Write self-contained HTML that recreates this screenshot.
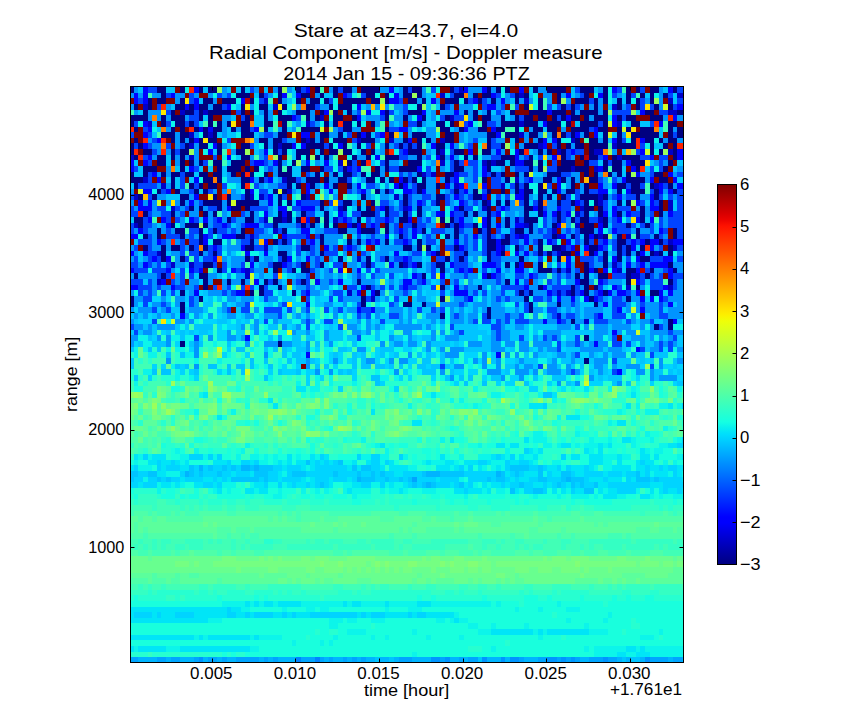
<!DOCTYPE html>
<html><head><meta charset="utf-8"><title>Stare</title>
<style>
html,body{margin:0;padding:0;background:#fff;}
body{width:864px;height:720px;overflow:hidden;}
svg{display:block;}
text{font-family:"Liberation Sans",sans-serif;fill:#000;}
</style></head><body>
<svg width="864" height="720" viewBox="0 0 864 720">
<defs>
<clipPath id="ax"><rect x="130" y="86" width="554" height="577"/></clipPath>
<linearGradient id="jet" x1="0" y1="0" x2="0" y2="1"><stop offset="0.0000" stop-color="#800000"/><stop offset="0.0156" stop-color="#920000"/><stop offset="0.0312" stop-color="#a40000"/><stop offset="0.0469" stop-color="#b60000"/><stop offset="0.0625" stop-color="#c80000"/><stop offset="0.0781" stop-color="#da0000"/><stop offset="0.0938" stop-color="#ec0400"/><stop offset="0.1094" stop-color="#fe1200"/><stop offset="0.1250" stop-color="#ff2100"/><stop offset="0.1406" stop-color="#ff3000"/><stop offset="0.1562" stop-color="#ff3f00"/><stop offset="0.1719" stop-color="#ff4d00"/><stop offset="0.1875" stop-color="#ff5c00"/><stop offset="0.2031" stop-color="#ff6b00"/><stop offset="0.2188" stop-color="#ff7a00"/><stop offset="0.2344" stop-color="#ff8800"/><stop offset="0.2500" stop-color="#ff9700"/><stop offset="0.2656" stop-color="#ffa600"/><stop offset="0.2812" stop-color="#ffb500"/><stop offset="0.2969" stop-color="#ffc300"/><stop offset="0.3125" stop-color="#ffd200"/><stop offset="0.3281" stop-color="#ffe100"/><stop offset="0.3438" stop-color="#fcf000"/><stop offset="0.3594" stop-color="#effe08"/><stop offset="0.3750" stop-color="#e2ff15"/><stop offset="0.3906" stop-color="#d5ff21"/><stop offset="0.4062" stop-color="#c9ff2e"/><stop offset="0.4219" stop-color="#bcff3b"/><stop offset="0.4375" stop-color="#afff48"/><stop offset="0.4531" stop-color="#a2ff55"/><stop offset="0.4688" stop-color="#95ff62"/><stop offset="0.4844" stop-color="#88ff6f"/><stop offset="0.5000" stop-color="#7bff7b"/><stop offset="0.5156" stop-color="#6fff88"/><stop offset="0.5312" stop-color="#62ff95"/><stop offset="0.5469" stop-color="#55ffa2"/><stop offset="0.5625" stop-color="#48ffaf"/><stop offset="0.5781" stop-color="#3bffbc"/><stop offset="0.5938" stop-color="#2effc9"/><stop offset="0.6094" stop-color="#21ffd5"/><stop offset="0.6250" stop-color="#15ffe2"/><stop offset="0.6406" stop-color="#08efef"/><stop offset="0.6562" stop-color="#00dffc"/><stop offset="0.6719" stop-color="#00cfff"/><stop offset="0.6875" stop-color="#00bfff"/><stop offset="0.7031" stop-color="#00afff"/><stop offset="0.7188" stop-color="#009fff"/><stop offset="0.7344" stop-color="#008fff"/><stop offset="0.7500" stop-color="#0080ff"/><stop offset="0.7656" stop-color="#0070ff"/><stop offset="0.7812" stop-color="#0060ff"/><stop offset="0.7969" stop-color="#0050ff"/><stop offset="0.8125" stop-color="#0040ff"/><stop offset="0.8281" stop-color="#0030ff"/><stop offset="0.8438" stop-color="#0020ff"/><stop offset="0.8594" stop-color="#0010ff"/><stop offset="0.8750" stop-color="#0000ff"/><stop offset="0.8906" stop-color="#0000fe"/><stop offset="0.9062" stop-color="#0000ec"/><stop offset="0.9219" stop-color="#0000da"/><stop offset="0.9375" stop-color="#0000c8"/><stop offset="0.9531" stop-color="#0000b6"/><stop offset="0.9688" stop-color="#0000a4"/><stop offset="0.9844" stop-color="#000092"/><stop offset="1.0000" stop-color="#000080"/></linearGradient>
</defs>
<rect width="864" height="720" fill="#fff"/>
<g clip-path="url(#ax)">
<g transform="translate(128.952 87.006) scale(4.6480 5.6470) translate(0 0.5)" stroke-width="1" fill="none" shape-rendering="crispEdges">
<path stroke="#000080" d="M98 48h1M11 45h1M32 45h1M98 44h1M113 42h1M116 42h1M95 41h1M116 41h1M67 40h1M77 40h1M11 39h1M77 39h1M86 39h1M0 38h1M11 38h1M50 38h1M59 38h2M63 38h1M86 38h1M92 38h1M100 38h1M0 37h1M15 37h1M50 37h1M67 37h1M85 37h1M99 37h1M107 37h1M11 36h1M26 36h1M28 36h1M35 36h1M53 36h1M84 36h1M86 36h1M95 36h1M98 36h1M102 36h1M112 36h2M16 35h1M28 35h1M32 35h1M51 35h1M67 35h1M75 35h1M88 35h1M95 35h1M98 35h1M100 35h1M109 35h1M16 34h1M21 34h1M24 34h1M29 34h1M31 34h1M37 34h1M49 34h1M81 34h1M97 34h2M107 34h1M116 34h1M1 33h1M7 33h1M15 33h2M63 33h1M77 33h1M96 33h1M98 33h1M101 33h2M107 33h1M111 33h1M19 32h1M31 32h1M35 32h1M37 32h2M67 32h1M88 32h3M92 32h1M98 32h1M100 32h1M107 32h2M112 32h1M117 32h1M16 31h2M31 31h2M37 31h1M41 31h1M51 31h1M58 31h1M62 31h1M66 31h2M81 31h1M83 31h1M88 31h1M98 31h1M102 31h1M116 31h1M7 30h1M11 30h1M25 30h1M27 30h1M33 30h1M45 30h1M51 30h1M55 30h1M68 30h1M71 30h1M77 30h1M84 30h1M92 30h1M102 30h1M105 30h1M110 30h2M7 29h1M15 29h1M18 29h1M32 29h2M41 29h1M66 29h1M72 29h1M77 29h1M80 29h1M88 29h1M90 29h1M93 29h2M99 29h1M102 29h1M105 29h1M107 29h1M109 29h1M112 29h1M114 29h1M116 29h1M3 28h1M7 28h1M9 28h2M13 28h1M16 28h1M25 28h2M37 28h2M59 28h2M62 28h1M64 28h1M70 28h1M77 28h2M83 28h1M88 28h1M91 28h2M99 28h2M105 28h1M107 28h1M110 28h1M116 28h1M15 27h1M18 27h2M26 27h1M31 27h1M33 27h1M41 27h1M47 27h1M49 27h1M55 27h1M62 27h1M77 27h2M80 27h2M88 27h1M98 27h1M105 27h2M111 27h1M114 27h1M3 26h1M6 26h1M11 26h1M15 26h1M23 26h2M41 26h1M58 26h1M68 26h1M70 26h1M77 26h1M81 26h1M91 26h1M95 26h1M98 26h1M100 26h1M102 26h1M105 26h1M109 26h1M113 26h1M117 26h1M6 25h1M10 25h2M15 25h1M18 25h1M24 25h1M33 25h1M45 25h2M50 25h3M55 25h1M63 25h1M70 25h1M75 25h1M77 25h1M83 25h2M86 25h1M97 25h3M109 25h1M117 25h1M2 24h1M9 24h1M12 24h3M16 24h1M31 24h1M37 24h1M39 24h1M42 24h1M44 24h1M48 24h1M55 24h1M61 24h1M68 24h1M70 24h1M74 24h1M77 24h1M81 24h1M86 24h1M91 24h1M98 24h2M102 24h1M107 24h1M111 24h1M1 23h2M21 23h1M25 23h2M31 23h2M34 23h1M36 23h1M40 23h1M42 23h1M49 23h1M58 23h2M67 23h1M69 23h1M77 23h1M81 23h1M85 23h3M92 23h1M95 23h1M97 23h2M102 23h1M110 23h1M3 22h1M9 22h1M16 22h1M18 22h1M26 22h1M32 22h1M34 22h1M37 22h1M42 22h1M50 22h3M55 22h1M59 22h1M62 22h1M72 22h1M74 22h1M77 22h1M85 22h1M88 22h1M92 22h1M98 22h1M101 22h1M105 22h1M110 22h1M114 22h1M13 21h1M15 21h1M19 21h1M22 21h2M25 21h1M41 21h1M46 21h1M49 21h1M51 21h1M55 21h1M62 21h1M71 21h1M77 21h1M85 21h2M88 21h1M98 21h2M101 21h1M110 21h1M114 21h1M11 20h1M16 20h4M21 20h1M23 20h5M32 20h1M34 20h1M41 20h1M46 20h2M52 20h1M59 20h1M66 20h1M76 20h1M79 20h1M81 20h1M85 20h1M88 20h1M92 20h1M95 20h1M98 20h1M100 20h1M105 20h1M107 20h1M114 20h1M2 19h1M5 19h1M11 19h2M18 19h1M21 19h1M25 19h1M32 19h1M37 19h1M50 19h1M59 19h1M66 19h2M74 19h2M85 19h1M88 19h1M90 19h1M93 19h1M97 19h4M102 19h1M109 19h1M113 19h1M6 18h1M10 18h1M14 18h1M16 18h1M25 18h1M31 18h1M33 18h1M53 18h1M55 18h1M62 18h1M70 18h1M74 18h1M77 18h1M80 18h1M83 18h1M85 18h2M88 18h2M91 18h1M94 18h2M98 18h1M105 18h1M108 18h3M113 18h1M117 18h1M1 17h1M9 17h1M13 17h1M15 17h1M17 17h2M24 17h1M34 17h1M36 17h1M39 17h1M44 17h1M47 17h1M58 17h1M62 17h2M66 17h1M83 17h1M85 17h1M88 17h1M95 17h1M98 17h1M105 17h2M108 17h2M112 17h1M116 17h1M0 16h3M9 16h1M16 16h2M19 16h1M24 16h2M28 16h1M34 16h2M38 16h3M42 16h1M45 16h2M51 16h2M54 16h1M56 16h1M59 16h1M61 16h1M63 16h1M68 16h1M76 16h1M81 16h1M89 16h2M93 16h1M95 16h1M99 16h2M107 16h4M114 16h2M0 15h1M3 15h1M7 15h1M9 15h2M12 15h2M15 15h2M18 15h2M22 15h1M24 15h1M26 15h1M29 15h1M32 15h3M40 15h1M44 15h1M46 15h2M50 15h1M52 15h2M62 15h1M68 15h2M78 15h1M80 15h1M83 15h1M85 15h1M90 15h3M98 15h1M100 15h1M103 15h1M105 15h1M107 15h1M113 15h2M3 14h3M11 14h1M19 14h1M21 14h3M25 14h1M27 14h1M32 14h1M34 14h1M37 14h2M41 14h1M46 14h1M53 14h1M55 14h1M58 14h4M70 14h2M77 14h1M86 14h1M88 14h1M92 14h3M96 14h3M102 14h1M104 14h2M109 14h1M115 14h1M6 13h2M11 13h1M13 13h1M15 13h1M18 13h2M22 13h3M32 13h1M35 13h1M47 13h1M50 13h1M55 13h1M60 13h3M70 13h1M77 13h1M79 13h2M82 13h1M85 13h2M88 13h1M93 13h3M98 13h1M102 13h1M104 13h2M108 13h3M116 13h1M1 12h1M6 12h2M9 12h1M11 12h1M24 12h2M32 12h1M36 12h1M38 12h1M40 12h1M42 12h1M48 12h1M51 12h1M55 12h3M62 12h1M67 12h1M72 12h1M74 12h1M80 12h3M86 12h1M93 12h1M97 12h1M99 12h2M104 12h1M106 12h4M117 12h1M0 11h1M3 11h2M9 11h1M11 11h2M19 11h1M23 11h2M31 11h1M33 11h1M36 11h3M41 11h1M43 11h2M46 11h2M50 11h1M52 11h1M60 11h3M66 11h1M70 11h2M76 11h2M84 11h1M88 11h1M90 11h1M93 11h1M99 11h1M112 11h1M114 11h1M117 11h1M0 10h1M2 10h1M12 10h1M15 10h2M19 10h1M24 10h2M29 10h1M31 10h1M33 10h2M38 10h4M43 10h1M46 10h1M49 10h1M55 10h1M58 10h1M60 10h1M62 10h1M66 10h2M77 10h1M80 10h1M85 10h3M92 10h1M94 10h1M96 10h2M99 10h4M105 10h4M112 10h1M115 10h1M117 10h1M1 9h1M9 9h1M11 9h1M13 9h1M15 9h1M17 9h2M28 9h2M31 9h2M37 9h1M39 9h1M41 9h1M44 9h3M50 9h3M59 9h1M62 9h1M64 9h1M68 9h2M77 9h1M83 9h1M88 9h1M92 9h1M96 9h1M99 9h2M102 9h1M105 9h1M108 9h1M111 9h2M114 9h1M116 9h2M7 8h3M11 8h2M16 8h1M18 8h1M24 8h3M32 8h2M41 8h2M45 8h1M49 8h1M51 8h1M56 8h1M61 8h3M68 8h2M77 8h2M81 8h3M86 8h2M91 8h1M93 8h1M95 8h1M98 8h1M102 8h1M105 8h1M108 8h6M116 8h1M118 8h2M1 7h1M9 7h1M11 7h1M14 7h1M16 7h1M18 7h2M22 7h1M24 7h2M29 7h1M33 7h1M37 7h4M46 7h2M55 7h1M67 7h2M71 7h1M75 7h2M79 7h2M83 7h1M87 7h2M90 7h2M95 7h4M101 7h2M105 7h1M107 7h1M110 7h3M116 7h1M118 7h2M0 6h1M7 6h1M10 6h2M13 6h1M17 6h1M19 6h1M21 6h1M24 6h2M29 6h2M33 6h1M42 6h1M44 6h1M46 6h2M49 6h1M52 6h1M62 6h1M66 6h2M69 6h1M76 6h1M80 6h4M85 6h3M90 6h3M94 6h1M97 6h4M102 6h1M108 6h2M116 6h2M0 5h4M7 5h1M9 5h3M15 5h1M17 5h1M25 5h1M29 5h1M32 5h3M38 5h1M40 5h1M44 5h2M48 5h1M55 5h1M59 5h1M63 5h1M68 5h1M74 5h1M76 5h2M80 5h1M83 5h1M85 5h2M88 5h2M91 5h1M93 5h1M95 5h2M98 5h1M100 5h3M105 5h1M107 5h2M112 5h3M3 4h1M9 4h1M12 4h2M15 4h1M17 4h5M24 4h1M26 4h1M29 4h1M32 4h1M36 4h3M41 4h1M44 4h1M47 4h1M55 4h1M60 4h3M72 4h1M74 4h1M77 4h1M82 4h1M86 4h4M91 4h3M95 4h1M97 4h4M102 4h1M111 4h2M118 4h2M1 3h1M4 3h1M10 3h2M13 3h1M15 3h2M18 3h2M24 3h1M28 3h2M33 3h1M38 3h2M43 3h1M45 3h3M62 3h1M67 3h1M85 3h1M88 3h1M93 3h1M95 3h1M100 3h1M105 3h1M109 3h1M113 3h1M116 3h1M4 2h1M6 2h2M11 2h1M16 2h2M20 2h3M26 2h1M32 2h1M36 2h1M39 2h2M42 2h1M46 2h5M52 2h2M55 2h1M60 2h2M63 2h1M68 2h3M72 2h1M75 2h1M78 2h1M83 2h1M88 2h1M92 2h1M96 2h3M100 2h1M102 2h1M105 2h1M107 2h1M109 2h1M112 2h1M7 1h1M23 1h3M28 1h1M32 1h1M37 1h2M41 1h1M44 1h1M51 1h2M55 1h1M59 1h2M62 1h1M70 1h2M74 1h1M76 1h2M83 1h1M85 1h1M92 1h1M98 1h1M102 1h1M107 1h1M110 1h1M112 1h1M115 1h1M0 0h1M6 0h2M11 0h1M15 0h1M17 0h2M24 0h1M32 0h1M36 0h1M40 0h1M44 0h1M46 0h2M50 0h4M59 0h1M61 0h2M69 0h1M77 0h1M79 0h1M81 0h1M87 0h1M90 0h4M97 0h3M102 0h1M107 0h1M109 0h1M112 0h2M117 0h1"/>
<path stroke="#0000c9" d="M98 41h1M92 40h1M52 37h1M47 36h1M92 36h1M94 36h1M107 35h1M116 35h1M6 34h1M25 33h1M108 33h2M25 32h1M94 32h1M105 32h1M9 31h1M13 31h1M59 31h1M104 31h1M49 30h1M6 29h1M92 29h1M96 29h1M113 29h1M29 28h1M80 28h1M93 28h1M117 28h1M116 27h1M26 26h1M84 26h1M92 26h1M101 26h1M107 26h1M31 25h1M91 25h1M1 24h1M85 24h1M96 24h1M29 23h1M33 23h1M44 23h1M83 23h1M101 23h1M67 22h1M96 22h1M9 21h1M45 21h1M59 21h1M76 21h1M97 21h1M116 21h1M77 20h1M101 20h1M116 20h1M1 19h1M26 19h1M28 19h1M38 19h1M57 19h1M101 19h1M34 18h1M7 17h1M70 17h1M80 17h1M113 17h1M3 16h1M33 16h1M83 16h1M63 15h1M65 15h1M95 14h1M100 14h1M45 13h1M67 13h1M76 13h1M78 13h1M0 12h1M13 12h1M105 12h1M67 11h1M92 11h1M100 11h2M116 11h1M13 10h1M32 10h1M88 10h1M104 10h1M38 9h1M49 9h1M56 9h1M67 9h1M95 9h1M13 8h1M17 8h1M84 8h1M4 6h1M38 6h1M84 6h1M105 6h1M41 5h1M69 5h1M11 4h1M16 4h1M116 4h2M3 3h1M31 3h1M104 3h1M29 2h1M85 2h1M116 2h1M67 1h1M84 1h1M118 1h2M71 0h1"/>
<path stroke="#0002ff" d="M105 50h1M38 47h1M79 47h1M109 46h1M100 45h1M25 44h1M104 43h1M89 41h1M92 41h1M117 41h1M11 40h1M101 40h1M49 39h1M52 39h1M105 39h1M110 39h1M38 38h1M102 38h1M116 38h1M73 37h1M92 37h1M95 37h1M98 37h1M100 37h1M110 37h1M112 37h1M114 37h1M14 36h1M23 36h2M38 36h1M49 36h1M52 36h1M70 36h3M90 36h1M97 36h1M101 36h1M103 36h1M105 36h2M109 36h1M114 36h1M116 36h1M0 35h2M9 35h1M50 35h1M59 35h1M70 35h1M85 35h1M89 35h1M104 35h1M115 35h1M7 34h1M27 34h1M40 34h1M45 34h1M59 34h2M63 34h1M83 34h1M96 34h1M101 34h1M109 34h1M61 33h1M67 33h1M76 33h1M78 33h1M86 33h1M116 33h1M0 32h1M8 32h1M13 32h1M15 32h1M22 32h1M24 32h1M45 32h1M49 32h1M71 32h1M73 32h1M79 32h1M83 32h2M99 32h1M102 32h1M104 32h1M109 32h1M116 32h1M3 31h1M26 31h1M33 31h1M56 31h1M61 31h1M69 31h1M76 31h3M84 31h1M94 31h1M107 31h1M110 31h1M112 31h4M5 30h1M8 30h1M18 30h1M34 30h1M38 30h1M59 30h1M94 30h1M104 30h1M109 30h1M115 30h2M0 29h1M3 29h1M25 29h1M29 29h1M57 29h1M65 29h1M79 29h1M83 29h1M85 29h1M100 29h1M110 29h1M18 28h1M24 28h1M42 28h1M47 28h1M71 28h1M79 28h1M95 28h1M98 28h1M101 28h1M108 28h1M112 28h1M6 27h1M16 27h1M29 27h1M39 27h1M51 27h1M53 27h1M59 27h1M70 27h1M79 27h1M85 27h1M90 27h1M94 27h1M102 27h1M108 27h1M110 27h1M112 27h2M117 27h3M0 26h2M16 26h1M20 26h3M33 26h1M38 26h1M55 26h1M61 26h1M74 26h1M83 26h1M85 26h1M93 26h1M99 26h1M2 25h1M37 25h2M49 25h1M58 25h1M61 25h1M101 25h1M104 25h1M114 25h1M8 24h1M20 24h1M25 24h3M47 24h1M49 24h1M52 24h1M71 24h1M76 24h1M79 24h1M83 24h2M92 24h1M101 24h1M4 23h1M7 23h1M13 23h1M16 23h1M19 23h1M38 23h1M46 23h1M55 23h1M60 23h1M71 23h1M76 23h1M105 23h1M109 23h1M112 23h1M29 22h1M33 22h1M45 22h1M66 22h1M69 22h1M79 22h1M89 22h1M91 22h1M94 22h1M102 22h1M104 22h1M107 22h1M116 22h1M2 21h3M21 21h1M32 21h2M37 21h3M54 21h1M60 21h1M70 21h1M80 21h1M87 21h1M92 21h1M104 21h1M112 21h2M2 20h1M4 20h1M13 20h1M30 20h1M36 20h1M62 20h1M71 20h1M96 20h1M109 20h1M112 20h1M14 19h1M30 19h1M70 19h1M76 19h1M83 19h2M105 19h1M112 19h1M3 18h2M8 18h1M26 18h1M38 18h1M43 18h1M50 18h1M59 18h2M63 18h1M72 18h1M84 18h1M92 18h1M101 18h2M107 18h1M114 18h1M116 18h1M38 17h1M42 17h1M49 17h1M57 17h1M59 17h1M68 17h1M71 17h1M76 17h1M92 17h1M101 17h1M104 17h1M114 17h1M118 17h2M6 16h1M14 16h1M26 16h1M30 16h1M58 16h1M70 16h1M86 16h1M92 16h1M106 16h1M112 16h1M117 16h1M5 15h1M70 15h1M76 15h1M109 15h1M116 15h1M0 14h1M13 14h1M47 14h1M49 14h1M62 14h1M76 14h1M101 14h1M108 14h1M0 13h1M3 13h1M27 13h2M31 13h1M38 13h1M42 13h1M83 13h2M107 13h1M4 12h1M21 12h1M53 12h1M66 12h1M69 12h1M83 12h1M91 12h1M102 12h1M112 12h1M118 12h2M17 11h1M29 11h1M59 11h1M73 11h1M79 11h1M83 11h1M95 11h1M110 11h1M118 11h2M3 10h1M18 10h1M35 10h1M37 10h1M45 10h1M65 10h1M69 10h1M89 10h1M6 9h1M14 9h1M60 9h1M89 9h1M91 9h1M104 9h1M110 9h1M3 8h1M37 8h2M50 8h1M54 8h1M79 8h1M96 8h1M100 8h1M4 7h1M15 7h1M17 7h1M27 7h1M58 7h2M72 7h1M78 7h1M100 7h1M3 6h1M73 6h1M89 6h1M104 6h1M114 6h1M35 5h1M49 5h1M62 5h1M94 5h1M104 5h1M117 5h1M42 4h1M51 4h1M54 4h1M63 4h1M70 4h1M90 4h1M110 4h1M12 3h1M14 3h1M21 3h1M49 3h1M77 3h2M118 3h2M1 2h1M3 2h1M14 2h1M24 2h1M56 2h2M65 2h1M74 2h1M80 2h1M1 1h1M3 1h1M9 1h1M33 1h1M36 1h1M46 1h1M57 1h1M78 1h1M94 1h1M101 1h1M3 0h1M14 0h1M38 0h1M56 0h1M72 0h1M76 0h1M84 0h1M104 0h1M116 0h1"/>
<path stroke="#0043ff" d="M95 50h1M104 50h1M67 49h1M88 49h1M112 49h1M104 48h1M96 47h1M112 47h1M92 46h1M110 46h1M114 46h1M116 46h1M92 45h1M96 45h1M104 45h2M107 45h1M114 45h1M116 45h1M14 44h1M49 44h1M79 44h1M84 44h1M89 44h1M91 44h1M96 44h1M104 44h1M117 44h1M1 43h1M71 43h1M79 43h1M116 43h1M0 42h1M38 42h1M45 42h1M69 42h1M78 42h2M96 42h1M114 42h1M5 41h1M29 41h1M38 41h1M42 41h2M54 41h1M74 41h1M76 41h2M79 41h1M81 41h1M83 41h3M93 41h1M100 41h3M107 41h1M112 41h1M32 40h1M49 40h1M51 40h1M56 40h2M70 40h1M76 40h1M81 40h1M84 40h1M91 40h1M94 40h2M100 40h1M104 40h3M114 40h2M5 39h1M8 39h1M21 39h1M24 39h2M29 39h4M34 39h1M38 39h1M42 39h1M45 39h1M50 39h2M62 39h1M65 39h1M67 39h1M85 39h1M90 39h2M104 39h1M114 39h1M3 38h1M7 38h1M13 38h1M25 38h1M33 38h1M49 38h1M56 38h1M71 38h1M83 38h1M85 38h1M95 38h1M104 38h3M110 38h1M114 38h1M3 37h2M13 37h1M29 37h1M38 37h1M43 37h1M45 37h1M51 37h1M57 37h1M72 37h1M79 37h1M81 37h1M87 37h2M90 37h1M101 37h1M104 37h2M115 37h1M2 36h1M4 36h1M7 36h1M9 36h1M20 36h1M22 36h1M29 36h2M37 36h1M44 36h2M59 36h1M67 36h1M74 36h1M76 36h1M80 36h1M83 36h1M85 36h1M91 36h1M93 36h1M96 36h1M100 36h1M107 36h1M2 35h3M6 35h1M10 35h2M14 35h1M18 35h1M21 35h1M24 35h1M26 35h1M29 35h1M38 35h1M47 35h2M52 35h1M54 35h1M56 35h1M58 35h1M60 35h2M65 35h1M72 35h1M80 35h5M91 35h4M96 35h1M101 35h1M105 35h1M112 35h3M117 35h1M0 34h3M4 34h1M9 34h1M11 34h1M30 34h1M36 34h1M38 34h1M43 34h1M62 34h1M67 34h1M70 34h1M79 34h1M85 34h1M90 34h1M92 34h1M102 34h1M110 34h1M112 34h3M117 34h1M6 33h1M8 33h1M11 33h1M13 33h1M31 33h1M38 33h1M49 33h1M52 33h1M56 33h1M62 33h1M65 33h1M72 33h1M79 33h1M83 33h2M87 33h1M92 33h1M94 33h1M104 33h3M110 33h1M112 33h1M114 33h1M117 33h3M1 32h3M5 32h3M11 32h1M14 32h1M20 32h1M23 32h1M26 32h1M34 32h1M39 32h1M43 32h1M51 32h1M53 32h1M65 32h1M70 32h1M72 32h1M76 32h1M91 32h1M93 32h1M96 32h1M111 32h1M115 32h1M0 31h2M4 31h1M6 31h1M8 31h1M14 31h2M18 31h1M20 31h1M24 31h1M30 31h1M34 31h1M36 31h1M40 31h1M44 31h2M50 31h1M52 31h1M60 31h1M65 31h1M70 31h3M79 31h1M92 31h1M99 31h1M105 31h1M109 31h1M1 30h1M4 30h1M6 30h1M12 30h1M14 30h1M16 30h2M26 30h1M32 30h1M40 30h1M54 30h1M57 30h2M60 30h1M66 30h2M70 30h1M72 30h1M78 30h2M88 30h1M97 30h3M101 30h1M107 30h1M112 30h3M118 30h2M4 29h2M11 29h1M13 29h2M17 29h1M19 29h1M36 29h1M39 29h1M42 29h3M50 29h1M61 29h2M64 29h1M70 29h2M76 29h1M78 29h1M87 29h1M89 29h1M91 29h1M106 29h1M1 28h1M4 28h1M11 28h1M14 28h1M17 28h1M19 28h1M27 28h2M36 28h1M39 28h1M44 28h1M46 28h1M48 28h1M68 28h2M72 28h1M74 28h1M76 28h1M84 28h1M94 28h1M102 28h1M104 28h1M106 28h1M114 28h1M118 28h2M2 27h3M7 27h1M11 27h1M13 27h2M24 27h2M32 27h1M34 27h1M38 27h1M52 27h1M57 27h2M60 27h1M64 27h2M72 27h1M74 27h1M76 27h1M82 27h2M87 27h1M91 27h1M96 27h1M99 27h1M101 27h1M104 27h1M107 27h1M109 27h1M115 27h1M4 26h1M8 26h3M13 26h1M17 26h1M25 26h1M27 26h1M34 26h4M40 26h1M49 26h1M52 26h1M59 26h1M64 26h1M72 26h1M76 26h1M78 26h1M80 26h1M82 26h1M89 26h2M96 26h1M110 26h2M114 26h1M118 26h2M0 25h1M3 25h1M8 25h1M13 25h2M17 25h1M19 25h2M22 25h1M27 25h2M32 25h1M42 25h3M53 25h1M57 25h1M59 25h1M62 25h1M65 25h3M71 25h1M76 25h1M79 25h1M82 25h1M88 25h1M90 25h1M94 25h1M96 25h1M105 25h3M112 25h1M115 25h1M118 25h2M0 24h1M3 24h2M18 24h2M21 24h1M24 24h1M29 24h2M36 24h1M38 24h1M51 24h1M53 24h1M57 24h1M59 24h2M62 24h2M69 24h1M72 24h2M89 24h1M104 24h3M108 24h1M110 24h1M112 24h1M114 24h1M116 24h4M3 23h1M8 23h1M10 23h1M14 23h1M18 23h1M22 23h1M28 23h1M45 23h1M47 23h1M51 23h1M53 23h2M56 23h1M62 23h1M64 23h1M70 23h1M84 23h1M89 23h1M91 23h1M93 23h1M96 23h1M99 23h2M104 23h1M114 23h1M116 23h4M0 22h2M4 22h1M7 22h2M11 22h1M24 22h1M38 22h2M46 22h1M48 22h2M53 22h1M56 22h2M60 22h1M70 22h2M78 22h1M93 22h1M97 22h1M108 22h2M112 22h1M117 22h3M0 21h1M6 21h2M10 21h1M12 21h1M17 21h2M26 21h4M35 21h2M53 21h1M56 21h1M58 21h1M72 21h2M79 21h1M81 21h1M89 21h1M93 21h2M102 21h1M105 21h3M118 21h2M15 20h1M37 20h4M43 20h1M45 20h1M54 20h2M58 20h1M60 20h1M63 20h1M65 20h1M68 20h1M72 20h1M74 20h1M84 20h1M87 20h1M93 20h2M97 20h1M102 20h1M110 20h1M113 20h1M118 20h2M0 19h1M4 19h1M24 19h1M29 19h1M33 19h1M60 19h1M63 19h2M68 19h1M71 19h1M73 19h1M79 19h1M81 19h1M94 19h1M96 19h1M104 19h1M107 19h2M114 19h1M116 19h1M118 19h2M7 18h1M13 18h1M17 18h1M28 18h2M47 18h1M49 18h1M56 18h1M61 18h1M69 18h1M71 18h1M76 18h1M96 18h1M99 18h2M112 18h1M118 18h2M2 17h4M11 17h1M14 17h1M20 17h1M27 17h1M32 17h2M51 17h2M61 17h1M78 17h2M82 17h1M84 17h1M90 17h1M107 17h1M110 17h1M115 17h1M4 16h1M11 16h1M29 16h1M36 16h1M47 16h1M60 16h1M69 16h1M74 16h1M78 16h2M85 16h1M101 16h1M104 16h1M4 15h1M11 15h1M38 15h1M48 15h1M58 15h1M60 15h1M64 15h1M71 15h2M74 15h1M77 15h1M79 15h1M93 15h2M112 15h1M118 15h2M1 14h1M14 14h1M30 14h1M42 14h2M45 14h1M48 14h1M56 14h2M64 14h1M69 14h1M74 14h1M83 14h3M90 14h2M112 14h1M114 14h1M4 13h1M16 13h1M26 13h1M29 13h1M48 13h1M54 13h1M69 13h1M71 13h1M73 13h2M91 13h1M99 13h2M103 13h1M114 13h1M3 12h1M18 12h1M29 12h1M58 12h2M64 12h1M78 12h2M85 12h1M88 12h1M94 12h1M101 12h1M110 12h2M114 12h2M5 11h1M10 11h1M32 11h1M58 11h1M69 11h1M94 11h1M96 11h2M109 11h1M1 10h1M4 10h1M8 10h1M11 10h1M26 10h1M42 10h1M51 10h1M57 10h1M59 10h1M61 10h1M73 10h1M78 10h2M91 10h1M110 10h1M5 9h1M21 9h1M33 9h1M48 9h1M74 9h1M78 9h1M106 9h1M0 8h1M4 8h1M29 8h2M47 8h1M53 8h1M94 8h1M117 8h1M3 7h1M26 7h1M45 7h1M56 7h2M99 7h1M1 6h1M8 6h1M12 6h1M14 6h1M39 6h1M60 6h2M72 6h1M77 6h2M101 6h1M112 6h1M13 5h2M24 5h1M36 5h1M54 5h1M67 5h1M70 5h2M84 5h1M92 5h1M106 5h1M8 4h1M14 4h1M23 4h1M49 4h1M56 4h1M59 4h1M79 4h1M104 4h4M114 4h2M6 3h1M20 3h1M40 3h1M59 3h1M68 3h1M76 3h1M80 3h1M83 3h1M90 3h1M92 3h1M94 3h1M96 3h1M107 3h1M110 3h1M112 3h1M117 3h1M2 2h1M13 2h1M28 2h1M43 2h1M58 2h1M73 2h1M76 2h1M99 2h1M110 2h1M118 2h2M8 1h1M13 1h1M19 1h1M21 1h1M29 1h1M47 1h1M50 1h1M69 1h1M79 1h1M82 1h1M97 1h1M104 1h1M108 1h1M116 1h1M4 0h2M26 0h1M37 0h1M45 0h1M60 0h1M65 0h1M70 0h1M96 0h1M105 0h1M110 0h1M118 0h2"/>
<path stroke="#0084ff" d="M36 101h1M40 101h1"/>
<path stroke="#0094ff" d="M15 101h1M65 101h2M68 101h1M76 101h1M80 101h1M82 101h2M90 101h2M93 101h1M95 101h1M102 101h1M111 101h1M92 52h1M96 52h1M105 52h1M69 51h1M80 51h1M84 51h1M99 51h1M112 51h1M114 51h4M40 50h1M43 50h1M57 50h1M67 50h1M77 50h3M83 50h3M87 50h1M90 50h3M94 50h1M96 50h1M101 50h1M109 50h2M112 50h1M14 49h1M38 49h1M70 49h2M76 49h1M79 49h1M83 49h1M85 49h2M90 49h2M94 49h1M100 49h2M104 49h1M107 49h3M114 49h1M8 48h1M38 48h1M44 48h1M51 48h2M56 48h1M58 48h2M74 48h1M76 48h1M79 48h1M84 48h1M91 48h1M95 48h1M100 48h3M114 48h1M118 48h2M14 47h1M29 47h1M60 47h1M68 47h3M76 47h1M81 47h1M83 47h1M87 47h1M92 47h2M95 47h1M99 47h1M102 47h1M104 47h3M108 47h1M14 46h1M38 46h1M49 46h2M64 46h1M67 46h1M69 46h3M78 46h3M84 46h2M88 46h1M90 46h2M97 46h5M103 46h3M112 46h2M118 46h2M0 45h1M8 45h1M14 45h1M25 45h1M29 45h3M33 45h2M38 45h1M43 45h1M54 45h1M57 45h2M60 45h2M64 45h1M73 45h3M78 45h2M81 45h2M84 45h2M87 45h4M94 45h2M97 45h1M99 45h1M101 45h2M110 45h1M113 45h1M115 45h1M117 45h1M0 44h2M6 44h1M8 44h1M17 44h1M21 44h2M24 44h1M32 44h1M42 44h1M56 44h1M60 44h1M65 44h1M68 44h3M78 44h1M80 44h2M87 44h1M90 44h1M92 44h1M100 44h2M108 44h3M112 44h1M114 44h1M116 44h1M3 43h2M21 43h1M27 43h1M35 43h1M38 43h1M42 43h1M48 43h2M51 43h1M59 43h2M65 43h1M67 43h1M70 43h1M78 43h1M80 43h2M89 43h4M100 43h3M105 43h1M107 43h2M112 43h4M117 43h3M1 42h2M4 42h1M6 42h4M24 42h1M27 42h1M33 42h1M36 42h1M47 42h2M51 42h1M53 42h1M57 42h6M64 42h1M80 42h1M83 42h2M92 42h3M98 42h1M100 42h3M104 42h4M110 42h1M112 42h1M115 42h1M0 41h1M10 41h2M13 41h1M27 41h1M31 41h1M37 41h1M39 41h1M49 41h1M51 41h1M58 41h1M60 41h1M65 41h1M67 41h1M69 41h3M73 41h1M80 41h1M86 41h3M90 41h2M94 41h1M96 41h2M103 41h3M108 41h1M110 41h2M115 41h1M1 40h1M3 40h1M6 40h1M9 40h1M12 40h1M14 40h1M17 40h1M21 40h2M25 40h2M29 40h3M36 40h1M38 40h1M44 40h1M50 40h1M53 40h1M58 40h1M60 40h1M64 40h3M69 40h1M71 40h1M73 40h2M78 40h3M82 40h2M87 40h1M90 40h1M93 40h1M96 40h1M98 40h2M108 40h1M112 40h2M116 40h4M0 39h1M2 39h3M7 39h1M13 39h3M20 39h1M27 39h1M37 39h1M44 39h1M47 39h2M53 39h2M56 39h3M60 39h1M66 39h1M69 39h1M71 39h1M74 39h1M76 39h1M78 39h3M83 39h1M87 39h2M92 39h1M94 39h1M96 39h1M98 39h4M107 39h1M109 39h1M111 39h3M116 39h4M1 38h1M5 38h2M8 38h1M10 38h1M14 38h1M20 38h1M23 38h2M32 38h1M42 38h2M46 38h1M57 38h1M64 38h2M67 38h4M72 38h1M74 38h3M78 38h2M90 38h2M93 38h2M96 38h1M101 38h1M107 38h1M109 38h1M111 38h3M115 38h1M118 38h2M1 37h2M7 37h1M10 37h2M14 37h1M21 37h2M24 37h3M30 37h2M46 37h4M53 37h1M55 37h1M62 37h2M70 37h2M76 37h1M78 37h1M80 37h1M82 37h3M89 37h1M93 37h2M96 37h1M102 37h1M106 37h1M108 37h2M116 37h4M0 36h1M3 36h1M5 36h1M13 36h1M17 36h3M21 36h1M39 36h2M43 36h1M48 36h1M54 36h1M57 36h2M60 36h1M62 36h1M69 36h1M73 36h1M78 36h2M87 36h3M99 36h1M104 36h1M108 36h1M117 36h3M5 35h1M7 35h2M12 35h2M20 35h1M33 35h1M36 35h2M39 35h1M41 35h2M53 35h1M62 35h1M68 35h1M71 35h1M73 35h2M76 35h1M78 35h1M86 35h2M90 35h1M97 35h1M110 35h1M118 35h2M5 34h1M10 34h1M13 34h2M17 34h1M20 34h1M22 34h2M25 34h1M32 34h1M35 34h1M41 34h2M44 34h1M48 34h1M50 34h3M56 34h1M58 34h1M61 34h1M64 34h1M69 34h1M73 34h1M76 34h3M80 34h1M87 34h1M91 34h1M94 34h2M99 34h1M103 34h3M118 34h2M0 33h1M2 33h4M10 33h1M17 33h2M21 33h1M23 33h2M28 33h1M36 33h2M40 33h1M42 33h2M45 33h1M48 33h1M50 33h1M53 33h2M59 33h1M69 33h3M73 33h2M80 33h1M85 33h1M88 33h2M91 33h1M93 33h1M95 33h1M97 33h1M100 33h1M113 33h1M9 32h1M27 32h2M33 32h1M40 32h1M42 32h1M48 32h1M54 32h6M61 32h1M64 32h1M68 32h1M78 32h1M81 32h1M85 32h1M87 32h1M95 32h1M113 32h2M118 32h2M2 31h1M5 31h1M10 31h2M22 31h2M28 31h2M35 31h1M39 31h1M47 31h2M57 31h1M64 31h1M73 31h1M87 31h1M90 31h1M95 31h1M100 31h2M103 31h1M108 31h1M111 31h1M117 31h3M0 30h1M3 30h1M10 30h1M20 30h1M22 30h3M29 30h2M36 30h1M39 30h1M41 30h1M43 30h1M48 30h1M50 30h1M53 30h1M56 30h1M61 30h2M69 30h1M74 30h1M80 30h4M85 30h1M100 30h1M1 29h1M9 29h2M16 29h1M21 29h1M34 29h1M38 29h1M40 29h1M46 29h1M48 29h1M51 29h1M53 29h3M60 29h1M69 29h1M73 29h3M84 29h1M86 29h1M101 29h1M104 29h1M108 29h1M118 29h2M0 28h1M5 28h2M8 28h1M12 28h1M21 28h3M30 28h1M32 28h3M40 28h1M43 28h1M49 28h1M54 28h5M61 28h1M66 28h1M73 28h1M81 28h1M85 28h1M87 28h1M113 28h1M5 27h1M8 27h1M10 27h1M21 27h1M23 27h1M27 27h1M36 27h1M40 27h1M42 27h3M48 27h1M50 27h1M54 27h1M63 27h1M68 27h2M71 27h1M73 27h1M84 27h1M86 27h1M97 27h1M103 27h1M5 26h1M12 26h1M14 26h1M19 26h1M28 26h3M42 26h4M51 26h1M53 26h2M57 26h1M60 26h1M63 26h1M65 26h1M69 26h1M71 26h1M73 26h1M75 26h1M79 26h1M86 26h3M94 26h1M104 26h1M112 26h1M115 26h1M1 25h1M4 25h2M7 25h1M9 25h1M21 25h1M23 25h1M29 25h1M36 25h1M40 25h2M47 25h2M56 25h1M60 25h1M68 25h2M72 25h2M85 25h1M87 25h1M89 25h1M93 25h1M95 25h1M100 25h1M103 25h1M108 25h1M110 25h2M5 24h1M7 24h1M11 24h1M17 24h1M23 24h1M28 24h1M32 24h4M40 24h1M56 24h1M64 24h2M78 24h1M80 24h1M82 24h1M87 24h1M90 24h1M94 24h1M115 24h1M11 23h1M17 23h1M20 23h1M23 23h2M27 23h1M48 23h1M52 23h1M57 23h1M63 23h1M72 23h2M78 23h1M80 23h1M82 23h1M90 23h1M94 23h1M103 23h1M107 23h1M115 23h1M5 22h2M10 22h1M13 22h2M17 22h1M20 22h1M25 22h1M27 22h1M30 22h1M36 22h1M58 22h1M63 22h1M65 22h1M73 22h1M75 22h2M81 22h2M84 22h1M90 22h1M100 22h1M106 22h1M111 22h1M115 22h1M1 21h1M5 21h1M11 21h1M14 21h1M16 21h1M20 21h1M30 21h1M40 21h1M42 21h1M44 21h1M57 21h1M61 21h1M63 21h2M69 21h1M75 21h1M82 21h3M90 21h2M95 21h1M109 21h1M111 21h1M0 20h1M3 20h1M5 20h1M8 20h1M10 20h1M12 20h1M14 20h1M20 20h1M28 20h2M48 20h1M56 20h1M61 20h1M69 20h1M73 20h1M75 20h1M82 20h1M90 20h2M104 20h1M6 19h2M13 19h1M22 19h2M44 19h1M51 19h1M54 19h2M58 19h1M61 19h2M65 19h1M69 19h1M72 19h1M86 19h1M89 19h1M103 19h1M106 19h1M110 19h2M117 19h1M0 18h1M11 18h2M18 18h1M20 18h1M22 18h1M35 18h1M39 18h1M48 18h1M51 18h1M54 18h1M64 18h2M68 18h1M73 18h1M82 18h1M93 18h1M97 18h1M104 18h1M115 18h1M6 17h1M8 17h1M28 17h1M30 17h2M40 17h1M43 17h1M48 17h1M53 17h1M55 17h1M60 17h1M64 17h2M69 17h1M73 17h2M94 17h1M97 17h1M102 17h1M117 17h1M21 16h3M27 16h1M32 16h1M37 16h1M43 16h2M50 16h1M64 16h2M67 16h1M72 16h2M80 16h1M84 16h1M87 16h2M91 16h1M94 16h1M96 16h1M102 16h1M105 16h1M111 16h1M6 15h1M8 15h1M21 15h1M31 15h1M39 15h1M43 15h1M49 15h1M54 15h1M59 15h1M61 15h1M73 15h1M84 15h1M89 15h1M95 15h2M101 15h1M104 15h1M110 15h2M117 15h1M8 14h1M29 14h1M31 14h1M54 14h1M67 14h1M72 14h2M80 14h1M82 14h1M87 14h1M118 14h2M10 13h1M14 13h1M30 13h1M33 13h1M37 13h1M40 13h1M56 13h2M65 13h1M106 13h1M113 13h1M115 13h1M5 12h1M10 12h1M12 12h1M14 12h1M26 12h1M28 12h1M43 12h1M49 12h2M60 12h2M63 12h1M68 12h1M70 12h1M76 12h2M84 12h1M90 12h1M95 12h1M6 11h1M8 11h1M14 11h1M22 11h1M28 11h1M54 11h1M64 11h1M78 11h1M80 11h1M87 11h1M89 11h1M104 11h1M5 10h2M10 10h1M14 10h1M20 10h1M30 10h1M54 10h1M56 10h1M70 10h1M72 10h1M84 10h1M95 10h1M4 9h1M10 9h1M12 9h1M27 9h1M30 9h1M34 9h2M40 9h1M53 9h1M57 9h2M65 9h1M71 9h1M73 9h1M79 9h2M85 9h1M87 9h1M101 9h1M115 9h1M118 9h2M10 8h1M14 8h1M20 8h1M28 8h1M31 8h1M40 8h1M43 8h2M60 8h1M64 8h2M71 8h1M73 8h4M85 8h1M88 8h1M90 8h1M97 8h1M106 8h1M8 7h1M20 7h1M23 7h1M32 7h1M35 7h1M44 7h1M48 7h2M60 7h1M64 7h2M70 7h1M73 7h2M86 7h1M93 7h1M117 7h1M20 6h1M36 6h1M40 6h1M53 6h1M56 6h1M58 6h1M63 6h1M79 6h1M4 5h1M6 5h1M8 5h1M12 5h1M20 5h2M30 5h1M39 5h1M51 5h3M57 5h2M60 5h1M65 5h1M73 5h1M78 5h2M82 5h1M99 5h1M115 5h1M118 5h2M1 4h1M4 4h3M28 4h1M30 4h1M35 4h1M39 4h1M48 4h1M58 4h1M65 4h1M67 4h3M71 4h1M73 4h1M76 4h1M80 4h1M96 4h1M101 4h1M0 3h1M8 3h1M17 3h1M26 3h1M36 3h1M41 3h2M51 3h1M53 3h1M55 3h1M57 3h2M69 3h1M71 3h3M79 3h1M97 3h1M99 3h1M101 3h1M106 3h1M114 3h1M10 2h1M18 2h1M33 2h1M38 2h1M62 2h1M66 2h1M77 2h1M79 2h1M81 2h1M84 2h1M86 2h1M90 2h1M94 2h1M101 2h1M111 2h1M114 2h1M0 1h1M2 1h1M5 1h2M10 1h2M14 1h1M17 1h1M20 1h1M30 1h1M40 1h1M58 1h1M63 1h1M73 1h1M81 1h1M89 1h2M93 1h1M96 1h1M105 1h1M114 1h1M1 0h1M20 0h1M27 0h1M31 0h1M34 0h1M43 0h1M48 0h1M54 0h2M58 0h1M63 0h1M73 0h3M78 0h1M88 0h2M101 0h1M114 0h1"/>
<path stroke="#00a4ff" d="M0 101h2M6 101h2M9 101h2M14 101h1M17 101h2M20 101h1M23 101h5M29 101h1M31 101h1M37 101h3M41 101h1M43 101h1M46 101h1M48 101h1M50 101h1M58 101h3M67 101h1M71 101h1M73 101h2M84 101h1M88 101h2M92 101h1M94 101h1M96 101h1M99 101h3M103 101h2M112 101h4M117 101h2M61 69h1"/>
<path stroke="#00b4ff" d="M2 101h4M8 101h1M11 101h3M16 101h1M19 101h1M21 101h2M28 101h1M30 101h1M32 101h4M42 101h1M44 101h2M47 101h1M49 101h1M51 101h2M54 101h2M57 101h1M61 101h4M69 101h2M72 101h1M77 101h3M81 101h1M85 101h3M97 101h2M105 101h1M107 101h1M110 101h1M116 101h1M119 101h1M64 70h1M49 69h1M94 69h1M12 68h1M64 68h3M79 68h1M15 67h1M24 67h2M27 67h1"/>
<path stroke="#00c4ff" d="M53 101h1M56 101h1M75 101h1M106 101h1M108 101h2M82 71h1M87 71h2M98 71h2M41 70h1M61 70h1M63 70h1M65 70h1M71 70h1M84 70h1M92 70h1M95 70h1M97 70h1M100 70h1M0 69h1M6 69h1M8 69h1M22 69h6M29 69h1M50 69h3M55 69h1M58 69h1M60 69h1M77 69h1M79 69h2M88 69h2M93 69h1M95 69h3M109 69h3M113 69h1M0 68h2M4 68h2M13 68h1M15 68h1M19 68h1M27 68h3M35 68h3M44 68h1M49 68h1M52 68h1M54 68h1M63 68h1M67 68h5M80 68h1M83 68h1M88 68h1M93 68h2M109 68h1M13 67h1M17 67h1M20 67h1M22 67h1M26 67h1M28 67h3M48 67h1M50 67h2M82 67h4M88 67h1M38 66h1M45 66h1M89 54h2M53 52h1M72 52h1M76 52h1M85 52h1M94 52h1M104 52h1M107 52h1M118 52h2M1 51h1M29 51h1M52 51h2M68 51h1M71 51h1M73 51h1M78 51h2M87 51h1M91 51h3M101 51h1M103 51h3M113 51h1M5 50h1M7 50h2M14 50h1M21 50h1M24 50h1M32 50h1M36 50h1M45 50h1M47 50h1M63 50h3M69 50h1M81 50h1M89 50h1M99 50h1M102 50h1M106 50h1M113 50h2M116 50h1M118 50h2M0 49h1M10 49h1M12 49h1M17 49h2M21 49h1M23 49h2M26 49h1M30 49h1M40 49h1M42 49h1M48 49h1M50 49h2M53 49h2M56 49h1M58 49h1M62 49h2M65 49h2M68 49h1M81 49h2M87 49h1M92 49h1M95 49h1M97 49h1M102 49h1M105 49h2M117 49h1M0 48h1M26 48h1M29 48h1M34 48h1M36 48h2M39 48h1M48 48h1M50 48h1M63 48h2M67 48h1M69 48h1M78 48h1M83 48h1M85 48h3M90 48h1M93 48h2M96 48h2M99 48h1M105 48h3M110 48h1M112 48h1M117 48h1M8 47h1M11 47h1M33 47h1M35 47h2M44 47h1M48 47h1M50 47h1M54 47h1M57 47h1M62 47h1M64 47h1M67 47h1M78 47h1M85 47h1M88 47h2M91 47h1M94 47h1M100 47h1M109 47h2M113 47h3M118 47h2M0 46h1M4 46h1M6 46h1M23 46h2M29 46h1M31 46h1M33 46h1M36 46h2M45 46h2M54 46h3M72 46h6M82 46h1M86 46h1M89 46h1M94 46h3M102 46h1M106 46h1M111 46h1M2 45h1M5 45h3M13 45h1M15 45h1M21 45h1M35 45h2M40 45h1M48 45h1M56 45h1M65 45h4M70 45h1M76 45h2M93 45h1M98 45h1M106 45h1M108 45h1M111 45h2M118 45h2M4 44h1M11 44h1M23 44h1M30 44h1M35 44h2M38 44h2M43 44h3M47 44h2M53 44h1M57 44h2M61 44h1M63 44h2M71 44h4M76 44h2M82 44h2M85 44h1M88 44h1M94 44h2M99 44h1M103 44h1M106 44h2M111 44h1M115 44h1M118 44h2M0 43h1M2 43h1M5 43h1M8 43h1M11 43h1M13 43h1M15 43h2M23 43h2M29 43h1M36 43h2M43 43h3M50 43h1M53 43h1M69 43h1M72 43h5M82 43h4M87 43h1M93 43h7M103 43h1M110 43h2M3 42h1M5 42h1M10 42h1M12 42h1M14 42h4M23 42h1M26 42h1M30 42h2M35 42h1M43 42h1M49 42h1M52 42h1M54 42h1M65 42h1M67 42h1M70 42h5M81 42h2M85 42h1M87 42h5M95 42h1M103 42h1M1 41h1M19 41h2M23 41h1M25 41h1M32 41h3M44 41h1M47 41h2M53 41h1M55 41h3M59 41h1M62 41h3M72 41h1M78 41h1M82 41h1M99 41h1M106 41h1M109 41h1M113 41h2M118 41h2M0 40h1M2 40h1M5 40h1M7 40h2M15 40h1M20 40h1M24 40h1M33 40h1M35 40h1M46 40h1M48 40h1M54 40h2M61 40h1M72 40h1M97 40h1M102 40h2M111 40h1M6 39h1M9 39h2M12 39h1M16 39h1M19 39h1M23 39h1M35 39h1M46 39h1M61 39h1M63 39h2M70 39h1M73 39h1M81 39h2M84 39h1M93 39h1M95 39h1M97 39h1M102 39h2M106 39h1M115 39h1M16 38h2M22 38h1M30 38h1M37 38h1M40 38h2M48 38h1M61 38h2M73 38h1M77 38h1M80 38h1M84 38h1M87 38h1M97 38h3M103 38h1M117 38h1M12 37h1M17 37h1M19 37h1M23 37h1M28 37h1M33 37h2M40 37h1M54 37h1M58 37h2M61 37h1M64 37h1M69 37h1M74 37h1M77 37h1M91 37h1M103 37h1M111 37h1M8 36h1M10 36h1M12 36h1M16 36h1M32 36h2M36 36h1M41 36h1M46 36h1M51 36h1M56 36h1M64 36h2M75 36h1M77 36h1M81 36h2M115 36h1M30 35h2M35 35h1M45 35h1M49 35h1M55 35h1M57 35h1M63 35h2M79 35h1M102 35h1M3 34h1M28 34h1M33 34h1M53 34h1M55 34h1M57 34h1M66 34h1M74 34h2M82 34h1M84 34h1M88 34h1M106 34h1M111 34h1M14 33h1M19 33h1M27 33h1M29 33h2M34 33h2M41 33h1M44 33h1M47 33h1M57 33h1M81 33h2M99 33h1M18 32h1M30 32h1M41 32h1M62 32h2M66 32h1M69 32h1M75 32h1M77 32h1M80 32h1M82 32h1M106 32h1M7 31h1M12 31h1M21 31h1M27 31h1M42 31h1M49 31h1M53 31h2M63 31h1M68 31h1M74 31h1M80 31h1M82 31h1M93 31h1M106 31h1M2 30h1M15 30h1M21 30h1M28 30h1M31 30h1M37 30h1M44 30h1M46 30h1M64 30h1M73 30h1M76 30h1M86 30h2M91 30h1M95 30h1M106 30h1M117 30h1M2 29h1M8 29h1M22 29h1M28 29h1M30 29h2M37 29h1M56 29h1M58 29h2M97 29h1M103 29h1M111 29h1M115 29h1M20 28h1M31 28h1M35 28h1M53 28h1M65 28h1M97 28h1M109 28h1M1 27h1M46 27h1M56 27h1M61 27h1M66 27h1M89 27h1M95 27h1M48 26h1M50 26h1M97 26h1M30 25h1M34 25h2M39 25h1M64 25h1M80 25h2M113 25h1M6 24h1M22 24h1M103 24h1M109 24h1M113 24h1M0 23h1M15 23h1M35 23h1M43 23h1M65 23h1M111 23h1M21 22h1M31 22h1M40 22h2M43 22h1M54 22h1M83 22h1M86 22h2M99 22h1M103 22h1M31 21h1M43 21h1M48 21h1M50 21h1M65 21h2M103 21h1M117 21h1M31 20h1M35 20h1M50 20h1M57 20h1M64 20h1M70 20h1M78 20h1M80 20h1M86 20h1M103 20h1M106 20h1M111 20h1M117 20h1M8 19h3M31 19h1M42 19h1M49 19h1M52 19h1M56 19h1M78 19h1M80 19h1M87 19h1M91 19h1M115 19h1M15 18h1M23 18h1M30 18h1M36 18h1M42 18h1M44 18h1M67 18h1M90 18h1M0 17h1M10 17h1M23 17h1M29 17h1M35 17h1M41 17h1M81 17h1M103 17h1M8 16h1M10 16h1M13 16h1M31 16h1M49 16h1M55 16h1M118 16h2M1 15h2M14 15h1M20 15h1M35 15h2M41 15h1M45 15h1M75 15h1M87 15h2M106 15h1M2 14h1M10 14h1M12 14h1M15 14h1M17 14h1M20 14h1M35 14h2M65 14h1M68 14h1M75 14h1M78 14h2M106 14h1M111 14h1M117 14h1M1 13h1M8 13h1M21 13h1M41 13h1M43 13h1M52 13h1M58 13h1M64 13h1M68 13h1M75 13h1M81 13h1M101 13h1M112 13h1M118 13h2M8 12h1M23 12h1M35 12h1M41 12h1M73 12h1M87 12h1M18 11h1M27 11h1M35 11h1M40 11h1M49 11h1M53 11h1M65 11h1M86 11h1M106 11h1M21 10h1M27 10h1M48 10h1M64 10h1M68 10h1M82 10h1M113 10h2M72 9h1M75 9h2M82 9h1M90 9h1M103 9h1M5 8h1M19 8h1M21 8h2M27 8h1M46 8h1M52 8h1M58 8h1M72 8h1M101 8h1M104 8h1M114 8h1M6 7h1M21 7h1M30 7h1M34 7h1M62 7h1M69 7h1M89 7h1M114 7h1M5 6h1M15 6h1M27 6h2M35 6h1M43 6h1M57 6h1M64 6h2M88 6h1M96 6h1M107 6h1M110 6h2M16 5h1M22 5h1M27 5h2M50 5h1M64 5h1M81 5h1M2 4h1M34 4h1M46 4h1M57 4h1M64 4h1M75 4h1M78 4h1M81 4h1M109 4h1M9 3h1M23 3h1M30 3h1M50 3h1M64 3h1M66 3h1M91 3h1M103 3h1M15 2h1M34 2h1M64 2h1M82 2h1M104 2h1M106 2h1M117 2h1M27 1h1M35 1h1M42 1h2M64 1h2M68 1h1M86 1h1M95 1h1M106 1h1M111 1h1M117 1h1M2 0h1M8 0h2M16 0h1M21 0h1M23 0h1M25 0h1M29 0h1M35 0h1M57 0h1M86 0h1M95 0h1M100 0h1M115 0h1"/>
<path stroke="#00d4ff" d="M1 93h4M6 93h1M10 93h4M21 93h2M25 93h1M27 93h4M33 93h1M35 93h1M39 93h10M50 93h1M52 93h3M60 93h1M62 93h2M21 92h1M72 71h1M85 71h2M89 71h1M95 71h1M105 71h4M115 71h1M118 71h1M0 70h2M3 70h3M16 70h2M19 70h1M29 70h1M32 70h1M35 70h1M38 70h1M40 70h1M42 70h1M50 70h2M54 70h1M60 70h1M62 70h1M66 70h3M70 70h1M73 70h1M80 70h1M82 70h2M85 70h2M89 70h1M91 70h1M93 70h1M96 70h1M98 70h2M103 70h9M115 70h5M1 69h2M4 69h2M7 69h1M9 69h2M12 69h4M18 69h1M20 69h1M28 69h1M30 69h2M33 69h4M40 69h3M44 69h3M48 69h1M53 69h2M56 69h2M59 69h1M62 69h4M67 69h4M73 69h4M78 69h1M81 69h1M83 69h1M86 69h2M90 69h3M98 69h1M102 69h1M107 69h1M112 69h1M114 69h5M2 68h2M11 68h1M14 68h1M16 68h3M20 68h2M23 68h3M30 68h2M34 68h1M38 68h6M45 68h4M50 68h2M53 68h1M55 68h2M59 68h4M72 68h7M82 68h1M84 68h1M90 68h1M95 68h1M98 68h4M103 68h3M107 68h2M111 68h1M117 68h1M1 67h1M6 67h1M8 67h3M14 67h1M16 67h1M18 67h2M21 67h1M23 67h1M31 67h2M34 67h3M40 67h7M52 67h2M71 67h1M73 67h1M81 67h1M86 67h2M89 67h1M92 67h1M94 67h1M98 67h1M111 67h1M114 67h1M116 67h2M6 66h1M9 66h1M21 66h1M24 66h2M27 66h1M40 66h1M42 66h1M44 66h1M52 66h2M55 66h1M75 66h2M81 66h1M84 66h2M110 66h1M3 65h1M13 65h3M17 65h1M19 65h1M41 65h1M49 65h1M52 65h2M58 65h1M79 65h1M82 65h1M93 65h1M85 64h1M118 63h2M119 62h1M89 56h1M119 56h1M45 53h1M57 53h1M86 53h2M38 52h1M54 52h1M70 52h1M79 52h1M81 52h2M90 52h1M95 52h1M99 52h3M112 52h1M117 52h1M4 51h1M14 51h1M38 51h1M41 51h1M48 51h1M58 51h1M60 51h1M65 51h1M76 51h1M82 51h2M100 51h1M102 51h1M109 51h1M118 51h2M11 50h1M13 50h1M19 50h1M30 50h1M33 50h3M38 50h2M46 50h1M48 50h1M59 50h1M70 50h2M73 50h2M80 50h1M86 50h1M93 50h1M97 50h1M100 50h1M103 50h1M117 50h1M5 49h1M7 49h1M11 49h1M33 49h1M36 49h1M44 49h1M55 49h1M60 49h1M64 49h1M69 49h1M84 49h1M99 49h1M110 49h1M115 49h2M118 49h2M40 48h1M43 48h1M45 48h1M47 48h1M53 48h1M55 48h1M60 48h2M72 48h1M75 48h1M81 48h2M109 48h1M111 48h1M20 47h1M25 47h1M37 47h1M43 47h1M45 47h1M49 47h1M53 47h1M56 47h1M65 47h1M72 47h3M90 47h1M97 47h2M101 47h1M103 47h1M13 46h1M21 46h1M34 46h1M40 46h1M47 46h1M53 46h1M59 46h2M63 46h1M66 46h1M81 46h1M87 46h1M93 46h1M107 46h1M115 46h1M1 45h1M10 45h1M37 45h1M42 45h1M59 45h1M62 45h1M69 45h1M71 45h1M5 44h1M15 44h1M19 44h2M62 44h1M67 44h1M7 43h1M10 43h1M12 43h1M14 43h1M17 43h1M19 43h2M39 43h1M56 43h1M77 43h1M19 42h1M21 42h2M34 42h1M40 42h1M42 42h1M44 42h1M63 42h1M75 42h3M108 42h2M2 41h3M12 41h1M16 41h3M21 41h1M24 41h1M28 41h1M41 41h1M46 41h1M52 41h1M66 41h1M4 40h1M10 40h1M19 40h1M23 40h1M28 40h1M37 40h1M39 40h1M59 40h1M63 40h1M1 39h1M33 39h1M43 39h1M59 39h1M72 39h1M75 39h1M89 39h1M2 38h1M4 38h1M12 38h1M21 38h1M29 38h1M35 38h2M44 38h2M53 38h1M5 37h2M8 37h1M16 37h1M35 37h1M41 37h2M65 37h1M15 36h1M63 36h1M66 36h1M68 36h1M27 35h1M40 35h1M43 35h1M69 35h1M15 34h1M46 34h2M65 34h1M71 34h1M58 33h1M60 33h1M64 33h1M68 33h1M10 32h1M75 31h1M63 30h1"/>
<path stroke="#00e5f7" d="M105 100h2M109 100h3M0 99h1M2 99h6M11 99h15M107 99h2M110 99h1M0 97h14M15 97h1M17 97h9M27 97h1M78 96h9M88 96h1M90 96h9M0 94h17M70 94h1M0 93h1M5 93h1M7 93h3M14 93h7M23 93h2M26 93h1M31 93h2M34 93h1M36 93h3M49 93h1M51 93h1M55 93h5M61 93h1M64 93h6M0 92h21M22 92h2M25 91h1M27 91h1M29 91h2M32 91h5M46 91h1M48 91h2M55 91h1M62 91h3M102 72h3M110 72h2M19 71h1M25 71h2M28 71h2M47 71h1M58 71h1M70 71h2M73 71h3M77 71h1M83 71h1M91 71h1M93 71h1M96 71h2M101 71h1M103 71h2M112 71h1M114 71h1M116 71h2M119 71h1M2 70h1M7 70h2M10 70h1M14 70h2M18 70h1M27 70h2M34 70h1M36 70h2M39 70h1M43 70h1M48 70h2M56 70h1M59 70h1M69 70h1M72 70h1M76 70h1M78 70h2M81 70h1M87 70h2M90 70h1M94 70h1M101 70h2M112 70h3M11 69h1M16 69h2M19 69h1M21 69h1M32 69h1M37 69h1M39 69h1M43 69h1M47 69h1M66 69h1M82 69h1M84 69h2M99 69h3M103 69h3M108 69h1M119 69h1M6 68h2M22 68h1M26 68h1M32 68h1M57 68h2M81 68h1M85 68h3M91 68h2M96 68h2M102 68h1M106 68h1M110 68h1M113 68h3M118 68h1M0 67h1M7 67h1M11 67h2M33 67h1M37 67h1M39 67h1M47 67h1M49 67h1M54 67h1M56 67h4M66 67h3M70 67h1M75 67h1M79 67h1M90 67h2M95 67h3M99 67h1M104 67h4M109 67h2M112 67h2M115 67h1M118 67h2M4 66h2M7 66h2M10 66h1M12 66h1M18 66h3M26 66h1M32 66h1M34 66h1M36 66h2M39 66h1M41 66h1M43 66h1M48 66h1M51 66h1M56 66h1M64 66h1M68 66h2M72 66h3M77 66h1M82 66h2M86 66h1M99 66h3M105 66h1M109 66h1M111 66h2M1 65h1M5 65h3M34 65h1M39 65h1M42 65h1M67 65h1M78 65h1M80 65h1M84 65h1M87 65h1M95 65h2M99 65h3M105 65h1M110 65h2M113 65h1M119 65h1M86 64h1M88 64h1M98 64h1M101 64h1M110 64h1M54 63h1M79 63h2M82 63h2M93 63h2M101 63h1M103 63h1M116 63h2M69 62h1M85 62h1M106 62h2M61 59h2M105 59h2M19 58h1M94 58h3M52 57h1M31 56h1M86 56h3M107 56h1M116 56h1M30 55h1M16 54h1M65 54h1M91 54h1M108 54h1M36 53h2M93 53h1M98 53h1"/>
<path stroke="#0cf5ea" d="M61 100h1M100 100h5M107 100h2M112 100h8M1 99h1M8 99h3M26 99h2M78 99h1M98 99h1M100 99h7M109 99h1M111 99h9M35 98h1M41 98h1M43 98h1M14 97h1M16 97h1M26 97h1M28 97h5M44 97h1M52 97h1M55 97h1M64 97h1M71 97h1M88 97h1M110 97h3M47 96h4M61 96h1M75 96h3M87 96h1M89 96h1M99 96h4M114 96h1M43 95h2M73 95h2M78 95h1M85 95h1M98 95h1M17 94h3M43 94h3M47 94h2M52 94h3M66 94h2M69 94h1M71 94h2M94 94h1M102 94h1M70 93h1M103 93h1M24 92h2M33 92h1M38 92h2M41 92h2M55 92h1M60 92h3M83 92h1M88 92h1M94 92h3M20 91h5M26 91h1M28 91h1M31 91h1M37 91h9M47 91h1M50 91h5M56 91h6M65 91h13M79 91h1M92 91h1M31 72h2M48 72h1M72 72h1M87 72h1M92 72h1M95 72h4M100 72h1M105 72h2M112 72h1M114 72h1M117 72h3M6 71h1M18 71h1M21 71h1M27 71h1M32 71h1M37 71h1M40 71h1M42 71h1M46 71h1M48 71h4M54 71h1M56 71h2M59 71h1M63 71h3M76 71h1M79 71h2M84 71h1M94 71h1M102 71h1M109 71h1M6 70h1M9 70h1M11 70h1M20 70h3M26 70h1M30 70h2M33 70h1M46 70h2M52 70h2M55 70h1M57 70h2M74 70h1M77 70h1M3 69h1M38 69h1M71 69h1M8 68h3M33 68h1M89 68h1M112 68h1M116 68h1M119 68h1M2 67h3M38 67h1M60 67h2M69 67h1M72 67h1M76 67h1M78 67h1M80 67h1M93 67h1M100 67h1M102 67h2M1 66h1M11 66h1M22 66h2M28 66h2M31 66h1M33 66h1M46 66h2M54 66h1M63 66h1M65 66h3M70 66h1M78 66h3M87 66h1M91 66h2M102 66h2M115 66h1M117 66h1M2 65h1M4 65h1M11 65h2M16 65h1M18 65h1M23 65h1M26 65h2M29 65h1M31 65h1M36 65h1M40 65h1M50 65h2M54 65h2M59 65h1M71 65h1M75 65h3M81 65h1M85 65h2M102 65h3M106 65h2M118 65h1M10 64h1M14 64h1M24 64h1M55 64h1M81 64h1M87 64h1M99 64h1M111 64h1M113 64h2M25 63h1M53 63h1M75 63h1M89 63h2M92 63h1M96 63h1M98 63h3M102 63h1M108 63h1M114 63h2M50 62h1M67 62h1M87 62h3M99 62h1M103 62h1M108 62h1M112 62h1M118 62h1M87 61h2M96 61h1M111 61h1M115 60h1M103 59h1M92 58h1M14 57h1M22 57h1M105 57h1M111 57h3M60 56h1M74 56h1M109 56h1M114 56h2M118 56h1M69 55h1M71 55h1M91 55h1M15 54h1M78 54h2M88 54h1M39 53h2M74 53h1M83 53h1M92 53h1M95 53h1M103 53h1M108 53h1M118 53h1M1 52h1M36 52h1M40 52h1M43 52h1M48 52h1M65 52h1M69 52h1M86 52h1M91 52h1M109 52h1M10 51h1M13 51h1M30 51h1M40 51h1M43 51h1M54 51h2M57 51h1M67 51h1M70 51h1M77 51h1M85 51h1M88 51h1M94 51h1M96 51h1M108 51h1M3 50h2M10 50h1M20 50h1M22 50h1M37 50h1M42 50h1M44 50h1M53 50h1M56 50h1M60 50h1M62 50h1M76 50h1M108 50h1M9 49h1M27 49h1M29 49h1M32 49h1M35 49h1M73 49h1M75 49h1M77 49h2M14 48h1M19 48h1M24 48h1M32 48h1M35 48h1M42 48h1M70 48h1M73 48h1M88 48h2M92 48h1M1 47h1M4 47h2M12 47h2M21 47h1M30 47h1M34 47h1M42 47h1M52 47h1M55 47h1M63 47h1M66 47h1M77 47h1M1 46h1M3 46h1M8 46h1M10 46h2M26 46h1M30 46h1M35 46h1M39 46h1M42 46h2M51 46h1M57 46h2M61 46h1M117 46h1M3 45h2M12 45h1M18 45h1M22 45h1M27 45h1M44 45h1M46 45h1M49 45h2M80 45h1M91 45h1M109 45h1M2 44h2M9 44h2M12 44h2M26 44h1M28 44h2M31 44h1M33 44h2M40 44h1M46 44h1M50 44h3M54 44h2M59 44h1M66 44h1M75 44h1M86 44h1M93 44h1M102 44h1M113 44h1M26 43h1M28 43h1M32 43h2M40 43h1M46 43h1M54 43h2M61 43h1M63 43h2M86 43h1M88 43h1M106 43h1M11 42h1M20 42h1M29 42h1M37 42h1M39 42h1M41 42h1M50 42h1M55 42h2M66 42h1M86 42h1M97 42h1M111 42h1M117 42h3M8 41h1M14 41h1M22 41h1M30 41h1M35 41h2M50 41h1M61 41h1M68 41h1M13 40h1M16 40h1M27 40h1M40 40h1M42 40h1M45 40h1M52 40h1M68 40h1M75 40h1M85 40h1M89 40h1M107 40h1M109 40h1M28 39h1M40 39h1M55 39h1M68 39h1M9 38h1M27 38h2M31 38h1M39 38h1M47 38h1M51 38h1M54 38h2M58 38h1M81 38h2M108 38h1M18 37h1M20 37h1M27 37h1M32 37h1M39 37h1M44 37h1M56 37h1M75 37h1M86 37h1M97 37h1M113 37h1M1 36h1M31 36h1M34 36h1M42 36h1M61 36h1M111 36h1M22 35h1M44 35h1M77 35h1M103 35h1M106 35h1M111 35h1M93 34h1M20 33h1M22 33h1M33 33h1M46 33h1M51 33h1M55 33h1M75 33h1M4 32h1M12 32h1M21 32h1M36 32h1M50 32h1M52 32h1M60 32h1M86 32h1M103 32h1M43 31h1M91 31h1M35 30h1M52 30h1M89 30h1M103 30h1M108 30h1M20 29h1M23 29h1M26 29h2M35 29h1M45 29h1M52 29h1M63 29h1M82 29h1M117 29h1M50 28h1M75 28h1M82 28h1M103 28h1M17 27h1M20 27h1M35 27h1M45 27h1M75 27h1M92 27h1M2 26h1M18 26h1M31 26h1M56 26h1M62 26h1M67 26h1M16 25h1M102 25h1M10 24h1M41 24h1M43 24h1M75 24h1M88 24h1M12 23h1M50 23h1M74 23h1M88 23h1M106 23h1M28 22h1M35 22h1M44 22h1M47 22h1M61 22h1M64 22h1M68 22h1M80 22h1M8 21h1M47 21h1M68 21h1M74 21h1M33 20h1M99 20h1M27 19h1M35 19h1M40 19h1M47 19h2M53 19h1M95 19h1M5 18h1M24 18h1M27 18h1M57 18h2M87 18h1M103 18h1M106 18h1M21 17h2M50 17h1M54 17h1M56 17h1M86 17h2M93 17h1M15 16h1M20 16h1M48 16h1M53 16h1M62 16h1M27 15h2M51 15h1M56 15h2M28 14h1M44 14h1M63 14h1M113 14h1M34 13h1M39 13h1M44 13h1M53 13h1M63 13h1M89 13h1M20 12h1M22 12h1M37 12h1M47 12h1M52 12h1M65 12h1M71 12h1M75 12h1M16 11h1M30 11h1M34 11h1M48 11h1M57 11h1M68 11h1M82 11h1M113 11h1M17 10h1M22 10h1M28 10h1M36 10h1M44 10h1M50 10h1M53 10h1M75 10h1M111 10h1M20 9h1M43 9h1M54 9h1M63 9h1M93 9h2M107 9h1M113 9h1M15 8h1M23 8h1M66 8h1M5 7h1M53 7h1M61 7h1M63 7h1M84 7h1M2 6h1M9 6h1M37 6h1M41 6h1M48 6h1M50 6h1M68 6h1M74 6h1M93 6h1M106 6h1M31 5h1M43 5h1M61 5h1M66 5h1M103 5h1M27 4h1M33 4h1M52 4h2M22 3h1M27 3h1M34 3h1M44 3h1M48 3h1M60 3h2M74 3h1M87 3h1M23 2h1M27 2h1M35 2h1M41 2h1M44 2h1M71 2h1M87 2h1M103 2h1M108 2h1M18 1h1M22 1h1M31 1h1M48 1h1M53 1h1M56 1h1M80 1h1M87 1h1M100 1h1M103 1h1M113 1h1M12 0h1M66 0h1M80 0h1M103 0h1"/>
<path stroke="#19ffdd" d="M20 100h1M22 100h1M25 100h36M62 100h38M28 99h45M76 99h2M79 99h19M99 99h1M0 98h35M36 98h5M42 98h1M44 98h37M82 98h38M33 97h5M39 97h5M45 97h7M53 97h2M56 97h8M65 97h6M72 97h16M89 97h4M94 97h16M113 97h1M115 97h5M0 96h40M41 96h2M45 96h2M51 96h10M62 96h13M103 96h3M107 96h7M115 96h5M0 95h43M45 95h7M53 95h20M75 95h3M79 95h6M86 95h12M99 95h9M110 95h10M20 94h23M46 94h1M49 94h3M55 94h11M68 94h1M73 94h21M95 94h7M103 94h5M109 94h11M71 93h20M92 93h11M104 93h16M26 92h7M34 92h4M40 92h1M43 92h12M56 92h4M63 92h20M84 92h4M89 92h5M97 92h23M0 91h20M78 91h1M80 91h4M85 91h7M93 91h9M103 91h17M1 90h1M19 90h1M27 90h1M29 90h1M62 90h1M65 90h1M76 90h1M85 90h3M90 90h1M97 90h1M104 90h1M107 90h1M111 90h2M48 73h2M61 73h1M69 73h1M72 73h1M77 73h1M83 73h1M85 73h1M95 73h1M98 73h6M117 73h1M119 73h1M1 72h1M7 72h3M11 72h1M13 72h2M19 72h6M26 72h1M29 72h2M33 72h1M37 72h2M40 72h2M44 72h3M49 72h3M65 72h2M68 72h4M75 72h6M82 72h2M86 72h1M88 72h4M93 72h1M99 72h1M101 72h1M107 72h2M113 72h1M115 72h2M0 71h1M8 71h2M14 71h1M17 71h1M20 71h1M22 71h2M30 71h2M33 71h3M39 71h1M43 71h1M55 71h1M60 71h3M66 71h4M81 71h1M90 71h1M92 71h1M100 71h1M111 71h1M113 71h1M12 70h2M24 70h1M44 70h2M75 70h1M72 69h1M106 69h1M5 67h1M64 67h1M74 67h1M108 67h1M0 66h1M2 66h2M13 66h4M30 66h1M35 66h1M57 66h1M61 66h2M71 66h1M89 66h1M93 66h1M97 66h2M106 66h3M113 66h1M118 66h2M9 65h2M20 65h2M28 65h1M30 65h1M32 65h2M35 65h1M37 65h2M45 65h4M61 65h1M64 65h1M66 65h1M68 65h1M83 65h1M88 65h1M94 65h1M97 65h2M112 65h1M114 65h4M9 64h1M11 64h1M17 64h1M21 64h1M23 64h1M27 64h1M32 64h1M36 64h1M39 64h1M63 64h2M66 64h1M70 64h1M100 64h1M103 64h2M106 64h1M109 64h1M112 64h1M115 64h2M7 63h1M13 63h1M39 63h1M52 63h1M56 63h1M58 63h2M73 63h2M77 63h2M81 63h1M85 63h1M87 63h1M95 63h1M97 63h1M104 63h3M109 63h1M14 62h2M38 62h1M46 62h1M62 62h1M70 62h2M80 62h1M86 62h1M93 62h1M95 62h1M100 62h3M104 62h1M109 62h3M117 62h1M83 61h1M89 61h1M97 61h2M100 61h1M103 61h1M109 61h1M112 61h2M43 60h1M69 60h1M96 60h1M110 60h1M25 59h1M27 59h1M32 59h1M91 59h1M104 59h1M108 59h1M20 58h1M38 58h2M87 58h1M97 58h2M118 58h1M40 57h1M47 57h1M96 57h1M106 57h1M109 57h1M25 56h1M47 56h1M52 56h1M72 56h1M75 56h1M82 56h1M100 56h1M106 56h1M11 55h1M19 55h1M58 55h1M76 55h1M93 55h1M109 55h1M37 54h1M39 54h1M64 54h1M66 54h1M80 54h1M85 54h1M107 54h1M109 54h1M114 54h1M1 53h2M9 53h2M23 53h1M43 53h1M56 53h1M81 53h2M90 53h1M96 53h2M109 53h1M114 53h1"/>
<path stroke="#27ffd0" d="M0 100h4M5 100h15M21 100h1M23 100h2M73 99h3M81 98h1M38 97h1M93 97h1M114 97h1M40 96h1M43 96h2M106 96h1M52 95h1M108 95h2M108 94h1M91 93h1M84 91h1M102 91h1M0 90h1M2 90h6M10 90h1M12 90h7M20 90h7M28 90h1M30 90h11M42 90h20M63 90h2M66 90h10M77 90h8M88 90h2M91 90h6M98 90h6M105 90h2M108 90h3M113 90h7M4 89h1M6 89h8M15 89h2M18 89h1M21 89h4M27 89h4M32 89h1M34 89h1M37 89h1M45 89h3M49 89h1M52 89h13M68 89h2M71 89h1M75 89h1M84 89h1M86 89h1M91 89h1M93 89h6M106 89h2M112 89h2M119 89h1M29 80h2M57 74h1M66 74h1M73 74h2M78 74h4M88 74h2M94 74h1M100 74h8M114 74h1M116 74h1M1 73h1M10 73h1M15 73h1M17 73h3M21 73h2M25 73h1M29 73h4M34 73h3M39 73h3M43 73h5M50 73h3M54 73h1M56 73h5M62 73h5M68 73h1M70 73h2M73 73h4M78 73h5M84 73h1M86 73h9M96 73h2M104 73h8M113 73h4M118 73h1M0 72h1M6 72h1M12 72h1M16 72h1M25 72h1M27 72h2M34 72h1M36 72h1M39 72h1M42 72h2M47 72h1M52 72h3M56 72h1M59 72h1M61 72h2M64 72h1M67 72h1M73 72h1M81 72h1M84 72h2M94 72h1M109 72h1M1 71h5M7 71h1M10 71h1M24 71h1M41 71h1M44 71h1M52 71h2M78 71h1M23 70h1M55 67h1M62 67h2M65 67h1M77 67h1M17 66h1M49 66h2M90 66h1M94 66h1M104 66h1M114 66h1M8 65h1M22 65h1M43 65h2M60 65h1M62 65h2M65 65h1M69 65h2M89 65h2M92 65h1M109 65h1M3 64h1M7 64h2M15 64h2M18 64h3M22 64h1M34 64h2M37 64h1M41 64h1M49 64h1M56 64h1M60 64h3M65 64h1M68 64h1M74 64h1M76 64h2M82 64h3M89 64h4M95 64h1M97 64h1M102 64h1M105 64h1M107 64h2M118 64h1M8 63h2M11 63h1M22 63h1M26 63h1M29 63h1M31 63h1M44 63h1M51 63h1M55 63h1M57 63h1M66 63h1M71 63h1M76 63h1M84 63h1M86 63h1M91 63h1M110 63h1M112 63h2M8 62h1M16 62h1M40 62h2M47 62h3M64 62h1M72 62h1M78 62h1M81 62h4M90 62h1M92 62h1M96 62h1M98 62h1M105 62h1M113 62h1M48 61h1M52 61h1M71 61h1M82 61h1M86 61h1M92 61h1M99 61h1M107 61h1M114 61h1M42 60h1M70 60h1M92 60h1M97 60h1M99 60h1M116 60h1M2 59h1M7 59h1M9 59h1M16 59h1M23 59h2M38 59h1M48 59h1M65 59h1M80 59h1M92 59h1M112 59h1M119 59h1M9 58h1M14 58h1M36 58h1M45 58h2M62 58h1M65 58h1M69 58h1M108 58h1M115 58h1M119 58h1M12 57h2M65 57h1M87 57h1M102 57h3M44 56h1M49 56h2M54 56h1M64 56h1M70 56h2M73 56h1M76 56h2M84 56h2M117 56h1M23 55h1M25 55h1M28 55h2M32 55h1M49 55h2M52 55h1M62 55h1M65 55h1M85 55h1M92 55h1M104 55h3M117 55h1M5 54h1M41 54h1M57 54h1M63 54h1M67 54h1M72 54h1M98 54h1M105 54h1M115 54h1M118 54h1M11 53h1M38 53h1M42 53h1M49 53h1M60 53h1M84 53h1M88 53h1M94 53h1M99 53h1M107 53h1M3 52h1M8 52h1M23 52h1M30 52h1M32 52h1M44 52h4M49 52h1M55 52h5M68 52h1M71 52h1M73 52h1M75 52h1M80 52h1M87 52h2M102 52h2M106 52h1M110 52h1M113 52h2M116 52h1M0 51h1M2 51h1M5 51h1M7 51h3M11 51h2M22 51h1M24 51h1M27 51h2M31 51h2M34 51h1M36 51h1M49 51h1M51 51h1M59 51h1M61 51h1M66 51h1M72 51h1M81 51h1M86 51h1M90 51h1M97 51h1M107 51h1M110 51h2M0 50h2M12 50h1M15 50h1M18 50h1M27 50h1M29 50h1M31 50h1M41 50h1M50 50h3M55 50h1M61 50h1M66 50h1M72 50h1M82 50h1M107 50h1M111 50h1M115 50h1M15 49h1M19 49h1M28 49h1M31 49h1M34 49h1M43 49h1M45 49h3M49 49h1M59 49h1M72 49h1M74 49h1M93 49h1M96 49h1M103 49h1M113 49h1M2 48h1M4 48h1M10 48h4M20 48h4M27 48h2M31 48h1M33 48h1M41 48h1M46 48h1M49 48h1M54 48h1M66 48h1M68 48h1M71 48h1M80 48h1M103 48h1M115 48h2M0 47h1M7 47h1M10 47h1M15 47h1M22 47h1M24 47h1M27 47h2M46 47h1M58 47h2M61 47h1M71 47h1M75 47h1M82 47h1M84 47h1M86 47h1M107 47h1M116 47h2M5 46h1M12 46h1M15 46h1M17 46h1M20 46h1M27 46h2M62 46h1M65 46h1M83 46h1M108 46h1M9 45h1M16 45h2M19 45h2M23 45h2M28 45h1M45 45h1M47 45h1M51 45h2M72 45h1M83 45h1M103 45h1M7 44h1M18 44h1M41 44h1M18 43h1M22 43h1M30 43h1M41 43h1M52 43h1M62 43h1M68 43h1M28 42h1M68 42h1M15 41h1M26 41h1M40 41h1M75 41h1M18 40h1M43 40h1M47 40h1M17 39h2M19 38h1M36 37h1"/>
<path stroke="#34ffc3" d="M4 100h1M8 90h2M11 90h1M41 90h1M0 89h4M5 89h1M14 89h1M17 89h1M19 89h2M25 89h2M31 89h1M33 89h1M35 89h2M38 89h7M48 89h1M50 89h2M65 89h3M70 89h1M72 89h3M76 89h8M85 89h1M87 89h4M92 89h1M99 89h7M108 89h4M114 89h5M2 88h1M4 88h1M7 88h1M15 88h2M18 88h5M25 88h1M30 88h7M44 88h2M50 88h1M52 88h1M54 88h2M60 88h1M64 88h2M71 88h2M75 88h2M79 88h1M85 88h2M91 88h4M99 88h1M103 88h1M105 88h1M107 88h5M113 88h6M1 81h1M3 81h1M5 81h1M7 81h1M10 81h2M13 81h3M22 81h1M24 81h1M26 81h5M34 81h10M45 81h7M53 81h4M58 81h1M61 81h7M76 81h1M79 81h1M83 81h1M85 81h1M87 81h2M93 81h1M97 81h1M99 81h1M102 81h4M107 81h6M114 81h1M116 81h4M2 80h1M5 80h1M7 80h2M12 80h4M17 80h1M19 80h1M22 80h1M25 80h1M31 80h2M38 80h1M40 80h2M43 80h3M49 80h2M52 80h5M59 80h2M65 80h8M76 80h3M80 80h1M83 80h2M89 80h1M93 80h2M99 80h9M109 80h8M118 80h1M110 75h1M117 75h1M5 74h1M11 74h1M13 74h1M15 74h1M17 74h3M21 74h2M25 74h3M33 74h3M39 74h18M58 74h8M67 74h6M75 74h3M82 74h6M90 74h3M95 74h2M98 74h2M108 74h6M115 74h1M117 74h3M0 73h1M2 73h4M8 73h2M11 73h4M16 73h1M20 73h1M23 73h2M26 73h3M33 73h1M37 73h2M42 73h1M53 73h1M55 73h1M67 73h1M112 73h1M2 72h4M10 72h1M15 72h1M17 72h2M35 72h1M55 72h1M57 72h2M60 72h1M63 72h1M74 72h1M12 71h2M15 71h1M36 71h1M38 71h1M110 71h1M25 70h1M101 67h1M58 66h1M60 66h1M88 66h1M95 66h2M116 66h1M0 65h1M24 65h2M56 65h2M72 65h3M91 65h1M108 65h1M2 64h1M28 64h2M31 64h1M33 64h1M38 64h1M44 64h2M48 64h1M51 64h1M53 64h1M57 64h1M59 64h1M67 64h1M71 64h1M73 64h1M75 64h1M78 64h3M93 64h1M119 64h1M0 63h1M10 63h1M15 63h1M17 63h3M21 63h1M23 63h1M27 63h2M33 63h1M40 63h1M42 63h2M45 63h1M60 63h2M64 63h2M68 63h1M72 63h1M88 63h1M107 63h1M111 63h1M7 62h1M17 62h1M19 62h2M36 62h1M39 62h1M43 62h2M52 62h1M58 62h4M65 62h2M68 62h1M77 62h1M79 62h1M94 62h1M97 62h1M114 62h2M49 61h1M70 61h1M78 61h1M80 61h1M85 61h1M94 61h2M105 61h1M110 61h1M15 60h1M39 60h1M41 60h1M68 60h1M81 60h1M83 60h1M100 60h3M109 60h1M117 60h1M119 60h1M26 59h1M33 59h1M40 59h1M49 59h1M59 59h2M64 59h1M66 59h1M78 59h1M83 59h1M89 59h1M93 59h5M99 59h1M102 59h1M109 59h1M12 58h1M18 58h1M40 58h1M72 58h1M76 58h1M88 58h1M99 58h1M110 58h1M114 58h1M116 58h1M2 57h1M11 57h1M21 57h1M42 57h2M45 57h1M48 57h1M66 57h1M79 57h2M83 57h1M89 57h1M98 57h1M101 57h1M107 57h1M110 57h1M30 56h1M53 56h1M55 56h1M61 56h1M65 56h2M90 56h2M93 56h1M98 56h1M101 56h1M112 56h1M8 55h2M24 55h1M36 55h1M57 55h1M61 55h1M67 55h2M72 55h1M79 55h1M84 55h1M3 54h1M9 54h1M25 54h1M32 54h3M38 54h1M40 54h1M55 54h1M68 54h1M71 54h1M77 54h1M81 54h2M84 54h1M86 54h2M101 54h1M106 54h1M110 54h2M16 53h1M21 53h2M25 53h2M33 53h2M41 53h1M52 53h1M63 53h1M67 53h1M71 53h1M75 53h1M77 53h2M85 53h1M91 53h1M115 53h1M119 53h1"/>
<path stroke="#41ffb6" d="M0 88h2M3 88h1M5 88h2M8 88h7M17 88h1M23 88h2M26 88h4M37 88h7M46 88h4M51 88h1M53 88h1M56 88h4M61 88h3M66 88h5M73 88h2M77 88h2M80 88h5M87 88h4M95 88h4M100 88h3M104 88h1M106 88h1M112 88h1M119 88h1M2 82h2M5 82h4M10 82h1M19 82h1M22 82h1M27 82h2M44 82h2M47 82h1M56 82h3M60 82h4M67 82h1M71 82h3M75 82h1M78 82h5M86 82h1M89 82h3M95 82h2M98 82h3M103 82h4M108 82h4M115 82h5M0 81h1M2 81h1M4 81h1M6 81h1M8 81h2M12 81h1M16 81h6M23 81h1M25 81h1M31 81h3M44 81h1M52 81h1M57 81h1M59 81h2M68 81h5M74 81h2M77 81h2M80 81h3M84 81h1M86 81h1M89 81h4M94 81h3M98 81h1M100 81h2M106 81h1M113 81h1M115 81h1M0 80h2M3 80h2M6 80h1M9 80h3M16 80h1M18 80h1M20 80h2M23 80h2M26 80h3M33 80h5M39 80h1M42 80h1M46 80h3M51 80h1M57 80h2M61 80h4M73 80h3M79 80h1M81 80h2M85 80h4M90 80h3M95 80h4M108 80h1M117 80h1M119 80h1M3 79h1M21 79h1M24 79h1M26 79h2M56 79h1M61 79h1M75 79h1M82 79h1M92 79h1M95 79h1M103 79h3M107 79h1M36 76h1M69 76h1M90 76h1M0 75h1M4 75h1M6 75h3M10 75h1M12 75h3M21 75h2M32 75h1M34 75h1M36 75h1M43 75h9M58 75h2M64 75h6M71 75h2M74 75h5M80 75h1M82 75h5M88 75h7M97 75h3M102 75h8M111 75h4M116 75h1M118 75h2M0 74h5M6 74h5M12 74h1M14 74h1M16 74h1M20 74h1M23 74h2M28 74h5M36 74h3M93 74h1M97 74h1M6 73h2M11 71h1M16 71h1M45 71h1M59 66h1M1 64h1M4 64h1M12 64h1M25 64h2M30 64h1M40 64h1M43 64h1M47 64h1M50 64h1M54 64h1M69 64h1M72 64h1M96 64h1M2 63h2M5 63h1M14 63h1M16 63h1M24 63h1M30 63h1M32 63h1M34 63h1M38 63h1M47 63h1M50 63h1M63 63h1M3 62h1M5 62h1M12 62h2M18 62h1M27 62h2M31 62h1M34 62h1M42 62h1M45 62h1M51 62h1M55 62h3M75 62h1M91 62h1M116 62h1M1 61h1M6 61h2M16 61h1M21 61h1M29 61h1M45 61h1M47 61h1M66 61h1M69 61h1M75 61h1M77 61h1M79 61h1M90 61h1M93 61h1M102 61h1M108 61h1M116 61h1M4 60h1M13 60h1M17 60h1M27 60h2M30 60h1M38 60h1M50 60h1M54 60h1M63 60h1M65 60h1M67 60h1M71 60h1M76 60h2M88 60h1M94 60h2M103 60h2M107 60h1M113 60h1M1 59h1M6 59h1M13 59h1M15 59h1M17 59h1M28 59h1M31 59h1M39 59h1M42 59h1M44 59h1M46 59h1M58 59h1M63 59h1M68 59h2M71 59h1M87 59h1M90 59h1M98 59h1M101 59h1M107 59h1M110 59h1M113 59h1M118 59h1M3 58h1M27 58h1M51 58h1M61 58h1M63 58h2M81 58h1M85 58h1M103 58h1M111 58h1M19 57h1M38 57h2M50 57h1M53 57h2M61 57h1M75 57h1M78 57h1M84 57h1M93 57h1M95 57h1M97 57h1M100 57h1M108 57h1M114 57h1M116 57h1M118 57h1M13 56h1M19 56h1M32 56h1M35 56h1M45 56h2M56 56h1M59 56h1M63 56h1M69 56h1M92 56h1M99 56h1M104 56h2M108 56h1M111 56h1M113 56h1M7 55h1M10 55h1M12 55h1M14 55h1M16 55h1M34 55h2M41 55h1M47 55h2M51 55h1M53 55h1M55 55h1M59 55h1M63 55h1M70 55h1M73 55h3M110 55h1M115 55h1M118 55h1M13 54h1M18 54h2M26 54h1M30 54h2M42 54h1M53 54h1M60 54h1M96 54h2M119 54h1M0 53h1M3 53h3M28 53h1M44 53h1M48 53h1M61 53h1M68 53h1M72 53h1M76 53h1M79 53h1M101 53h1M113 53h1M0 52h1M2 52h1M4 52h4M10 52h1M12 52h5M18 52h3M24 52h6M31 52h1M33 52h3M37 52h1M41 52h1M50 52h1M52 52h1M60 52h3M64 52h1M67 52h1M74 52h1M77 52h2M89 52h1M93 52h1M97 52h1M111 52h1M115 52h1M3 51h1M6 51h1M15 51h1M17 51h5M23 51h1M26 51h1M33 51h1M35 51h1M37 51h1M39 51h1M42 51h1M45 51h3M50 51h1M56 51h1M62 51h3M74 51h2M89 51h1M95 51h1M106 51h1M2 50h1M9 50h1M16 50h2M23 50h1M26 50h1M28 50h1M49 50h1M54 50h1M58 50h1M68 50h1M75 50h1M88 50h1M98 50h1M1 49h4M6 49h1M13 49h1M16 49h1M20 49h1M22 49h1M25 49h1M39 49h1M57 49h1M61 49h1M80 49h1M98 49h1M1 48h1M3 48h1M5 48h3M9 48h1M15 48h4M25 48h1M30 48h1M57 48h1M62 48h1M65 48h1M113 48h1M3 47h1M6 47h1M9 47h1M17 47h1M23 47h1M31 47h2M40 47h1M47 47h1M51 47h1M111 47h1M7 46h1M16 46h1M18 46h1M22 46h1M25 46h1M41 46h1M44 46h1M48 46h1M68 46h1M39 45h1M41 45h1M53 45h1M55 45h1M63 45h1M86 45h1M16 44h1M27 44h1M37 44h1M97 44h1M6 43h1M9 43h1M47 43h1M57 43h2M66 43h1M13 42h1M18 42h1M25 42h1M32 42h1M99 42h1M6 41h1M34 40h1M41 40h1M62 40h1M86 40h1M88 40h1M26 39h1M36 39h1M39 39h1M41 39h1M15 38h1M18 38h1M52 38h1M88 38h2M9 37h1M66 37h1M6 36h1M27 36h1M55 36h1M108 35h1M39 34h1M72 34h1M89 34h1M100 34h1M115 34h1M12 33h1M90 33h1M17 32h1M44 32h1M25 31h1M55 31h1M9 30h1M13 30h1M47 30h1M75 30h1M12 29h1M24 29h1M89 28h2M22 27h1M46 26h1M108 26h1M12 25h1M54 25h1M95 24h1M5 23h1M30 23h1M41 23h1M68 23h1M113 23h1M19 22h1M95 22h1M34 21h1M53 20h1M36 19h1M43 19h1M46 19h1M82 19h1M41 18h1M52 18h1M75 18h1M111 18h1M12 17h1M26 17h1M111 17h1M71 16h1M75 16h1M82 16h1M103 16h1M33 14h1M50 14h2M103 14h1M17 13h1M20 13h1M87 13h1M27 12h1M34 12h1M44 12h1M54 12h1M20 11h1M75 11h1M47 10h1M63 10h1M71 10h1M103 10h1M98 9h1M6 8h1M80 8h1M31 7h1M36 7h1M54 7h1M81 7h2M115 7h1M16 6h1M18 6h1M31 6h1M34 6h1M54 6h1M75 6h1M115 6h1M37 5h1M56 5h1M0 4h1M56 3h1M65 3h1M82 3h1M89 3h1M30 2h1M89 2h1M4 1h1M34 1h1M49 1h1M109 1h1M41 0h1M64 0h1M106 0h1"/>
<path stroke="#4effa9" d="M0 87h4M5 87h3M9 87h2M19 87h1M5 86h1M10 86h1M13 86h2M0 82h2M4 82h1M9 82h1M11 82h2M14 82h5M20 82h2M23 82h4M29 82h15M46 82h1M48 82h8M59 82h1M64 82h3M68 82h3M74 82h1M76 82h2M83 82h3M87 82h2M92 82h3M97 82h1M101 82h2M107 82h1M112 82h3M73 81h1M0 79h3M4 79h14M19 79h2M22 79h2M25 79h1M28 79h28M57 79h4M62 79h13M76 79h6M83 79h2M86 79h6M93 79h2M96 79h7M106 79h1M108 79h12M1 78h1M3 78h1M19 78h3M23 78h3M27 78h10M44 78h1M58 78h1M60 78h1M64 78h6M71 78h1M86 78h2M93 78h1M109 78h3M114 78h3M118 78h1M1 77h1M61 77h1M78 77h2M88 77h1M100 77h1M102 77h1M2 76h1M5 76h1M8 76h8M30 76h1M32 76h1M34 76h2M37 76h4M42 76h3M54 76h3M63 76h2M66 76h3M70 76h3M74 76h13M88 76h2M91 76h6M98 76h21M1 75h3M5 75h1M9 75h1M11 75h1M15 75h6M23 75h9M33 75h1M35 75h1M37 75h6M52 75h6M60 75h4M70 75h1M73 75h1M79 75h1M81 75h1M87 75h1M95 75h2M100 75h2M115 75h1M0 64h1M6 64h1M13 64h1M42 64h1M46 64h1M58 64h1M94 64h1M117 64h1M1 63h1M4 63h1M35 63h3M46 63h1M62 63h1M67 63h1M69 63h2M0 62h2M4 62h1M6 62h1M9 62h1M21 62h1M29 62h2M53 62h2M63 62h1M73 62h1M76 62h1M2 61h1M4 61h1M8 61h1M15 61h1M19 61h1M22 61h1M27 61h1M30 61h1M33 61h1M36 61h1M43 61h2M46 61h1M50 61h1M53 61h2M60 61h2M65 61h1M67 61h2M72 61h2M81 61h1M91 61h1M101 61h1M115 61h1M117 61h1M119 61h1M5 60h1M7 60h1M11 60h1M16 60h1M20 60h1M22 60h1M26 60h1M40 60h1M48 60h1M64 60h1M66 60h1M72 60h1M74 60h2M79 60h1M82 60h1M84 60h1M91 60h1M98 60h1M108 60h1M111 60h2M114 60h1M118 60h1M0 59h1M8 59h1M14 59h1M19 59h1M29 59h1M41 59h1M45 59h1M51 59h1M54 59h2M67 59h1M74 59h1M77 59h1M79 59h1M82 59h1M88 59h1M100 59h1M111 59h1M114 59h3M1 58h1M4 58h1M8 58h1M10 58h1M17 58h1M25 58h1M28 58h1M31 58h1M33 58h1M35 58h1M48 58h3M52 58h3M60 58h1M68 58h1M70 58h1M80 58h1M82 58h1M93 58h1M107 58h1M112 58h1M23 57h1M25 57h1M37 57h1M41 57h1M49 57h1M58 57h1M63 57h1M68 57h1M77 57h1M81 57h1M85 57h1M94 57h1M115 57h1M117 57h1M2 56h1M34 56h1M41 56h1M43 56h1M48 56h1M51 56h1M57 56h2M62 56h1M67 56h1M79 56h2M94 56h1M97 56h1M103 56h1M3 55h1M13 55h1M17 55h1M22 55h1M27 55h1M33 55h1M39 55h1M43 55h4M56 55h1M64 55h1M78 55h1M83 55h1M86 55h1M89 55h1M114 55h1M8 54h1M10 54h1M14 54h1M27 54h2M35 54h1M47 54h1M49 54h1M56 54h1M58 54h1M69 54h1M83 54h1M113 54h1M116 54h1M15 53h1M24 53h1M29 53h4M35 53h1M46 53h1M53 53h3M59 53h1M73 53h1M102 53h1M110 53h2M117 53h1"/>
<path stroke="#5bff9c" d="M4 87h1M8 87h1M11 87h8M20 87h12M34 87h1M36 87h1M40 87h1M42 87h2M49 87h3M61 87h1M64 87h1M66 87h4M73 87h1M75 87h1M79 87h1M81 87h1M83 87h2M96 87h5M102 87h2M105 87h1M107 87h2M110 87h10M0 86h5M6 86h4M11 86h2M15 86h13M29 86h5M38 86h1M45 86h1M62 86h1M83 86h1M106 86h5M116 86h4M117 85h2M4 83h1M117 83h1M13 82h1M18 79h1M85 79h1M0 78h1M2 78h1M4 78h15M22 78h1M26 78h1M37 78h7M45 78h13M59 78h1M61 78h3M70 78h1M72 78h14M88 78h5M94 78h15M112 78h2M117 78h1M119 78h1M0 77h1M2 77h14M17 77h1M19 77h20M40 77h4M45 77h1M47 77h3M51 77h10M62 77h8M71 77h1M75 77h3M80 77h8M89 77h11M101 77h1M103 77h10M114 77h6M0 76h2M3 76h2M6 76h2M16 76h14M31 76h1M33 76h1M41 76h1M45 76h9M57 76h6M65 76h1M73 76h1M87 76h1M97 76h1M119 76h1M5 64h1M52 64h1M6 63h1M12 63h1M20 63h1M41 63h1M48 63h1M10 62h2M22 62h1M25 62h2M32 62h2M35 62h1M37 62h1M74 62h1M0 61h1M5 61h1M14 61h1M17 61h2M23 61h1M28 61h1M31 61h1M34 61h2M41 61h1M51 61h1M59 61h1M62 61h1M64 61h1M74 61h1M84 61h1M104 61h1M106 61h1M118 61h1M0 60h1M3 60h1M12 60h1M14 60h1M19 60h1M29 60h1M34 60h1M36 60h1M51 60h1M53 60h1M55 60h3M61 60h2M73 60h1M80 60h1M85 60h1M87 60h1M105 60h2M3 59h3M10 59h1M18 59h1M22 59h1M34 59h1M37 59h1M43 59h1M50 59h1M53 59h1M70 59h1M76 59h1M81 59h1M84 59h1M86 59h1M7 58h1M11 58h1M21 58h1M24 58h1M34 58h1M37 58h1M47 58h1M56 58h1M67 58h1M79 58h1M83 58h1M86 58h1M89 58h1M91 58h1M102 58h1M104 58h2M113 58h1M117 58h1M3 57h2M6 57h1M10 57h1M15 57h2M36 57h1M46 57h1M51 57h1M59 57h1M76 57h1M91 57h2M99 57h1M6 56h1M14 56h1M24 56h1M28 56h2M37 56h1M68 56h1M78 56h1M81 56h1M83 56h1M95 56h1M0 55h2M20 55h1M26 55h1M31 55h1M37 55h2M60 55h1M77 55h1M82 55h1M94 55h1M102 55h2M107 55h1M119 55h1M4 54h1M11 54h1M36 54h1M43 54h1M70 54h1M73 54h2M92 54h1M94 54h2M117 54h1M8 53h1M13 53h1M19 53h1M51 53h1M65 53h1M69 53h2M80 53h1M100 53h1M106 53h1M116 53h1"/>
<path stroke="#68ff8f" d="M32 87h2M35 87h1M37 87h3M41 87h1M44 87h5M52 87h9M62 87h2M65 87h1M70 87h3M74 87h1M76 87h3M80 87h1M82 87h1M85 87h11M101 87h1M104 87h1M106 87h1M109 87h1M28 86h1M34 86h4M39 86h6M46 86h16M63 86h4M68 86h11M81 86h2M84 86h13M98 86h8M111 86h5M0 85h23M24 85h6M32 85h6M40 85h2M46 85h1M48 85h1M50 85h1M52 85h1M54 85h1M56 85h1M58 85h1M61 85h4M66 85h3M72 85h1M75 85h1M78 85h5M86 85h2M91 85h2M97 85h1M99 85h4M104 85h13M119 85h1M0 84h10M13 84h1M15 84h3M51 84h1M78 84h1M109 84h1M114 84h1M117 84h1M0 83h4M5 83h15M23 83h5M29 83h1M31 83h1M33 83h4M39 83h1M43 83h4M53 83h10M64 83h1M67 83h3M72 83h4M77 83h12M90 83h1M94 83h1M99 83h6M107 83h4M112 83h5M118 83h2M16 77h1M18 77h1M39 77h1M44 77h1M46 77h1M50 77h1M70 77h1M72 77h3M113 77h1M49 63h1M2 62h1M3 61h1M9 61h1M20 61h1M25 61h2M37 61h1M55 61h1M58 61h1M63 61h1M76 61h1M1 60h2M6 60h1M10 60h1M18 60h1M21 60h1M32 60h1M35 60h1M44 60h1M49 60h1M78 60h1M90 60h1M93 60h1M11 59h1M20 59h2M30 59h1M47 59h1M56 59h1M72 59h1M117 59h1M0 58h1M2 58h1M22 58h2M29 58h1M32 58h1M41 58h2M44 58h1M59 58h1M66 58h1M71 58h1M74 58h2M78 58h1M90 58h1M100 58h2M106 58h1M109 58h1M1 57h1M20 57h1M24 57h1M26 57h1M28 57h2M34 57h1M44 57h1M56 57h1M60 57h1M64 57h1M67 57h1M70 57h1M86 57h1M88 57h1M90 57h1M119 57h1M4 56h1M8 56h1M11 56h2M15 56h2M21 56h3M27 56h1M33 56h1M96 56h1M102 56h1M110 56h1M2 55h1M4 55h1M15 55h1M18 55h1M54 55h1M66 55h1M87 55h1M99 55h1M101 55h1M108 55h1M112 55h1M17 54h1M22 54h3M45 54h1M52 54h1M54 54h1M59 54h1M75 54h2M93 54h1M99 54h2M102 54h1M112 54h1M7 53h1M14 53h1M20 53h1M27 53h1M47 53h1M50 53h1M58 53h1M62 53h1M64 53h1M89 53h1M105 53h1M11 52h1M21 52h2M39 52h1M42 52h1M51 52h1M63 52h1M66 52h1M83 52h2M108 52h1M16 51h1M44 51h1M6 50h1M8 49h1M41 49h1M52 49h1M89 49h1M108 48h1M2 47h1M18 47h1M26 47h1M39 47h1M41 47h1M80 47h1M2 46h1M9 46h1M32 46h1M52 46h1M26 45h1"/>
<path stroke="#75ff82" d="M67 86h1M79 86h2M97 86h1M23 85h1M30 85h2M38 85h2M42 85h4M47 85h1M49 85h1M51 85h1M53 85h1M55 85h1M57 85h1M59 85h2M65 85h1M69 85h3M73 85h2M76 85h2M83 85h3M88 85h3M93 85h4M98 85h1M103 85h1M10 84h3M14 84h1M18 84h23M42 84h3M46 84h5M52 84h1M54 84h1M56 84h4M62 84h5M68 84h1M70 84h3M75 84h3M79 84h17M97 84h12M110 84h4M115 84h2M118 84h2M20 83h3M28 83h1M30 83h1M32 83h1M37 83h2M40 83h3M47 83h6M63 83h1M65 83h2M70 83h2M76 83h1M89 83h1M91 83h3M95 83h4M105 83h2M111 83h1M23 62h2M10 61h2M13 61h1M42 61h1M56 61h1M8 60h1M23 60h3M33 60h1M37 60h1M52 60h1M58 60h1M60 60h1M86 60h1M89 60h1M12 59h1M36 59h1M52 59h1M57 59h1M73 59h1M75 59h1M5 58h2M13 58h1M15 58h1M26 58h1M55 58h1M57 58h2M77 58h1M84 58h1M0 57h1M7 57h1M27 57h1M55 57h1M69 57h1M73 57h1M0 56h1M9 56h2M17 56h1M20 56h1M26 56h1M36 56h1M38 56h1M40 56h1M6 55h1M81 55h1M90 55h1M111 55h1M113 55h1M116 55h1M7 54h1M12 54h1M44 54h1M61 54h1M103 54h1M6 53h1M12 53h1M18 53h1"/>
<path stroke="#82ff75" d="M41 84h1M45 84h1M53 84h1M55 84h1M60 84h2M67 84h1M69 84h1M73 84h2M96 84h1M12 61h1M24 61h1M32 61h1M39 61h2M57 61h1M31 60h1M47 60h1M59 60h1M35 59h1M85 59h1M16 58h1M43 58h1M73 58h1M5 57h1M9 57h1M17 57h2M30 57h2M33 57h1M35 57h1M57 57h1M62 57h1M71 57h2M1 56h1M3 56h1M18 56h1M39 56h1M42 56h1M5 55h1M21 55h1M40 55h1M42 55h1M95 55h1M98 55h1M100 55h1M6 54h1M46 54h1M48 54h1M50 54h1M66 53h1"/>
<path stroke="#8fff68" d="M38 61h1M9 60h1M46 60h1M32 57h1M74 57h1M82 57h1M7 56h1M88 55h1M96 55h2M0 54h1M2 54h1M29 54h1M51 54h1M104 54h1M17 53h1M104 53h1M112 53h1"/>
<path stroke="#9cff5b" d="M45 60h1M30 58h1M8 57h1M5 56h1M1 54h1M20 54h2M62 54h1M9 52h1M17 52h1M25 51h1M98 51h1M111 49h1M77 48h1M16 47h1M19 47h1M25 43h1M31 43h1M46 42h1M45 41h1M68 37h1M23 35h1M26 34h1M54 34h1M63 28h1M103 26h1M15 24h1M66 23h1M108 20h1M41 19h1M108 15h1M89 14h1M36 13h1M31 12h1M39 12h1M13 11h1M25 11h1M45 11h1M103 11h1M108 11h1M115 11h1M81 10h1M89 8h1M28 7h1M43 7h1M66 7h1M43 4h1M50 4h1M103 4h1M108 4h1M35 3h1M63 3h1M54 2h1M93 2h1M113 2h1M61 1h1M19 0h1M33 0h1"/>
<path stroke="#a9ff4e" d="M80 55h1"/>
<path stroke="#d0ff27" d="M98 52h1M25 50h1M19 46h1M34 43h1M109 43h1M9 41h1M108 39h1M26 38h1M66 38h1M34 35h1M26 33h1M66 33h1M89 31h1M75 23h1M6 20h1M22 20h1M2 18h1M32 18h1M86 15h1M111 11h1M103 8h1M41 7h1M106 7h1M103 6h1M86 3h1M115 3h1"/>
<path stroke="#ffe600" d="M7 41h1M34 38h1M66 35h1M108 34h1M46 32h1M108 23h1M9 20h1M44 20h1M17 19h1M89 17h1M46 13h1M111 13h1M89 12h1M16 9h1M35 8h1M107 8h1M108 7h1M22 6h1M72 5h1M7 4h1M25 3h1M32 3h1M54 3h1M111 3h1M12 2h1"/>
<path stroke="#ffb900" d="M32 33h1M93 30h1M68 29h1M28 27h1M93 24h1M83 20h1M3 19h1M75 17h1M98 16h1M107 11h1M26 9h1M57 8h1M71 6h1M52 3h1"/>
<path stroke="#ff7d00" d="M19 30h1M15 28h1M89 20h1M21 18h1M18 16h1M102 15h1M9 14h1M66 13h1M30 12h1M92 12h1M102 11h1M7 10h1M76 10h1M25 9h1M92 8h1M7 7h1M113 7h1M26 6h1M5 5h1M37 3h1M72 1h1"/>
<path stroke="#ff2300" d="M19 35h1M25 35h1M9 33h1M81 29h1M98 29h1M111 28h1M9 27h1M66 24h1M37 23h1M2 22h1M20 19h1M25 17h1M72 17h1M66 16h1M25 15h1M110 14h1M51 13h1M72 13h1M2 12h1M1 11h1M7 11h1M21 11h1M56 11h1M85 11h1M109 10h1M118 10h2M3 9h1M7 9h1M109 9h1M0 7h1M13 7h1M45 6h1M113 6h1M116 5h1M7 3h1M66 1h1M13 0h1"/>
<path stroke="#b70000" d="M103 33h1M110 32h1M51 28h1M106 26h1M98 12h1M55 8h1M32 6h1M95 6h1M25 2h1"/>
<path stroke="#800000" d="M37 49h1M105 44h1M110 40h1M22 39h1M37 37h1M60 37h1M25 36h1M50 36h1M110 36h1M15 35h1M17 35h1M46 35h1M99 35h1M8 34h1M12 34h1M18 34h2M34 34h1M68 34h1M86 34h1M39 33h1M115 33h1M16 32h1M29 32h1M32 32h1M47 32h1M74 32h1M97 32h1M101 32h1M19 31h1M38 31h1M46 31h1M85 31h2M96 31h2M42 30h1M65 30h1M90 30h1M96 30h1M47 29h1M49 29h1M67 29h1M95 29h1M2 28h1M41 28h1M45 28h1M52 28h1M67 28h1M86 28h1M96 28h1M115 28h1M0 27h1M12 27h1M30 27h1M37 27h1M67 27h1M93 27h1M100 27h1M7 26h1M32 26h1M39 26h1M47 26h1M66 26h1M116 26h1M25 25h2M74 25h1M78 25h1M92 25h1M116 25h1M45 24h2M50 24h1M54 24h1M58 24h1M67 24h1M97 24h1M100 24h1M6 23h1M9 23h1M39 23h1M61 23h1M79 23h1M12 22h1M15 22h1M22 22h2M113 22h1M24 21h1M52 21h1M67 21h1M78 21h1M96 21h1M100 21h1M108 21h1M115 21h1M1 20h1M7 20h1M42 20h1M49 20h1M51 20h1M67 20h1M115 20h1M15 19h2M19 19h1M34 19h1M39 19h1M45 19h1M77 19h1M92 19h1M1 18h1M9 18h1M19 18h1M37 18h1M40 18h1M45 18h2M66 18h1M78 18h2M81 18h1M16 17h1M19 17h1M37 17h1M45 17h2M67 17h1M77 17h1M91 17h1M96 17h1M99 17h2M5 16h1M7 16h1M12 16h1M41 16h1M57 16h1M77 16h1M97 16h1M113 16h1M116 16h1M17 15h1M23 15h1M30 15h1M37 15h1M42 15h1M55 15h1M66 15h2M81 15h2M97 15h1M99 15h1M115 15h1M6 14h2M16 14h1M18 14h1M24 14h1M26 14h1M39 14h2M52 14h1M66 14h1M81 14h1M99 14h1M107 14h1M116 14h1M2 13h1M5 13h1M9 13h1M12 13h1M25 13h1M49 13h1M59 13h1M90 13h1M92 13h1M96 13h2M117 13h1M15 12h3M19 12h1M33 12h1M45 12h2M96 12h1M103 12h1M113 12h1M116 12h1M2 11h1M15 11h1M26 11h1M39 11h1M42 11h1M51 11h1M55 11h1M63 11h1M72 11h1M74 11h1M81 11h1M91 11h1M98 11h1M105 11h1M9 10h1M23 10h1M52 10h1M74 10h1M83 10h1M90 10h1M93 10h1M98 10h1M116 10h1M0 9h1M2 9h1M8 9h1M19 9h1M22 9h3M36 9h1M42 9h1M47 9h1M55 9h1M61 9h1M66 9h1M70 9h1M81 9h1M84 9h1M86 9h1M97 9h1M1 8h2M34 8h1M36 8h1M39 8h1M48 8h1M59 8h1M67 8h1M70 8h1M99 8h1M115 8h1M2 7h1M10 7h1M12 7h1M42 7h1M50 7h3M77 7h1M85 7h1M92 7h1M94 7h1M103 7h2M109 7h1M6 6h1M23 6h1M51 6h1M55 6h1M59 6h1M70 6h1M118 6h2M18 5h2M23 5h1M26 5h1M42 5h1M46 5h2M75 5h1M87 5h1M90 5h1M97 5h1M109 5h3M10 4h1M22 4h1M25 4h1M31 4h1M40 4h1M45 4h1M66 4h1M83 4h3M94 4h1M113 4h1M2 3h1M5 3h1M70 3h1M75 3h1M81 3h1M84 3h1M98 3h1M102 3h1M108 3h1M0 2h1M5 2h1M8 2h2M19 2h1M31 2h1M37 2h1M45 2h1M51 2h1M59 2h1M67 2h1M91 2h1M95 2h1M115 2h1M12 1h1M15 1h2M26 1h1M39 1h1M45 1h1M54 1h1M75 1h1M88 1h1M91 1h1M99 1h1M10 0h1M22 0h1M28 0h1M30 0h1M39 0h1M42 0h1M49 0h1M67 0h2M82 0h2M85 0h1M94 0h1M108 0h1M111 0h1"/>
</g>
</g>
<rect x="130.5" y="86.5" width="553" height="576" fill="none" stroke="#000" stroke-width="1"/>
<rect x="717.5" y="184.5" width="19.0" height="380.0" fill="url(#jet)" stroke="#000" stroke-width="1"/>
<path d="M130.5 547.5h4M683.5 547.5h-4M130.5 430.5h4M683.5 430.5h-4M130.5 312.5h4M683.5 312.5h-4M130.5 195.5h4M683.5 195.5h-4M212.5 662.5v-4M212.5 86.5v4M295.5 662.5v-4M295.5 86.5v4M379.5 662.5v-4M379.5 86.5v4M463.5 662.5v-4M463.5 86.5v4M546.5 662.5v-4M546.5 86.5v4M630.5 662.5v-4M630.5 86.5v4M736.5 227.5h-4M736.5 269.5h-4M736.5 311.5h-4M736.5 353.5h-4M736.5 396.5h-4M736.5 438.5h-4M736.5 480.5h-4M736.5 522.5h-4" stroke="#000" stroke-width="1" fill="none"/>
<text x="406.00" y="36.90" font-size="18.60" text-anchor="middle" textLength="224.60" lengthAdjust="spacingAndGlyphs" >Stare at az=43.7, el=4.0</text>
<text x="405.70" y="58.70" font-size="18.60" text-anchor="middle" textLength="393.60" lengthAdjust="spacingAndGlyphs" >Radial Component [m/s] - Doppler measure</text>
<text x="406.50" y="80.30" font-size="18.60" text-anchor="middle" textLength="246.60" lengthAdjust="spacingAndGlyphs" >2014 Jan 15 - 09:36:36 PTZ</text>
<text x="124.40" y="553.00" font-size="16.70" text-anchor="end" textLength="36.20" lengthAdjust="spacingAndGlyphs" >1000</text>
<text x="124.40" y="435.40" font-size="16.70" text-anchor="end" textLength="36.20" lengthAdjust="spacingAndGlyphs" >2000</text>
<text x="124.40" y="317.80" font-size="16.70" text-anchor="end" textLength="36.20" lengthAdjust="spacingAndGlyphs" >3000</text>
<text x="124.40" y="200.20" font-size="16.70" text-anchor="end" textLength="36.20" lengthAdjust="spacingAndGlyphs" >4000</text>
<text x="211.30" y="678.70" font-size="16.70" text-anchor="middle" textLength="42.40" lengthAdjust="spacingAndGlyphs" >0.005</text>
<text x="294.90" y="678.70" font-size="16.70" text-anchor="middle" textLength="42.40" lengthAdjust="spacingAndGlyphs" >0.010</text>
<text x="378.50" y="678.70" font-size="16.70" text-anchor="middle" textLength="42.40" lengthAdjust="spacingAndGlyphs" >0.015</text>
<text x="462.10" y="678.70" font-size="16.70" text-anchor="middle" textLength="42.40" lengthAdjust="spacingAndGlyphs" >0.020</text>
<text x="545.70" y="678.70" font-size="16.70" text-anchor="middle" textLength="42.40" lengthAdjust="spacingAndGlyphs" >0.025</text>
<text x="629.30" y="678.70" font-size="16.70" text-anchor="middle" textLength="42.40" lengthAdjust="spacingAndGlyphs" >0.030</text>
<text x="406.60" y="696.30" font-size="16.70" text-anchor="middle" textLength="85.40" lengthAdjust="spacingAndGlyphs" >time [hour]</text>
<text x="682.00" y="694.70" font-size="16.70" text-anchor="end" textLength="72.00" lengthAdjust="spacingAndGlyphs" >+1.761e1</text>
<text transform="translate(76.7 374.4) rotate(-90)" font-size="16.70" text-anchor="middle" textLength="75.2" lengthAdjust="spacingAndGlyphs">range [m]</text>
<text x="739.90" y="189.92" font-size="16.70" text-anchor="start" >6</text>
<text x="739.90" y="232.16" font-size="16.70" text-anchor="start" >5</text>
<text x="739.90" y="274.40" font-size="16.70" text-anchor="start" >4</text>
<text x="739.90" y="316.64" font-size="16.70" text-anchor="start" >3</text>
<text x="739.90" y="358.88" font-size="16.70" text-anchor="start" >2</text>
<text x="739.90" y="401.12" font-size="16.70" text-anchor="start" >1</text>
<text x="739.90" y="443.36" font-size="16.70" text-anchor="start" >0</text>
<text x="739.90" y="485.60" font-size="16.70" text-anchor="start" textLength="20.60" lengthAdjust="spacingAndGlyphs" >−1</text>
<text x="739.90" y="527.84" font-size="16.70" text-anchor="start" textLength="20.60" lengthAdjust="spacingAndGlyphs" >−2</text>
<text x="739.90" y="570.08" font-size="16.70" text-anchor="start" textLength="20.60" lengthAdjust="spacingAndGlyphs" >−3</text>
</svg>
</body></html>
